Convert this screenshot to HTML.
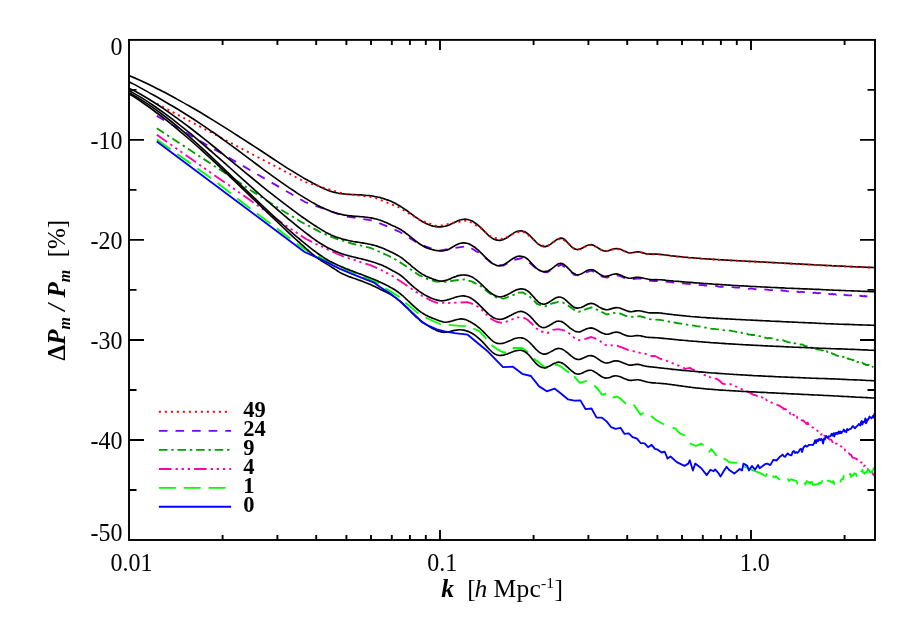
<!DOCTYPE html>
<html><head><meta charset="utf-8"><title>plot</title>
<style>
html,body{margin:0;padding:0;background:#fff;}
body{width:913px;height:622px;overflow:hidden;position:relative;font-family:"Liberation Serif",serif;}
</style></head><body>
<svg width="913" height="622" viewBox="0 0 913 622" style="position:absolute;left:0;top:0;will-change:transform">
<rect x="0" y="0" width="913" height="622" fill="#fff"/>
<defs><clipPath id="cp"><rect x="129.0" y="39.9" width="746.6" height="500.1"/></clipPath></defs>
<g fill="none" stroke-linejoin="round" clip-path="url(#cp)">
<path d="M129 75.5C131 76.3 137 78.9 141 80.8C145 82.6 149 84.5 153 86.5C157 88.5 161 90.5 165 92.6C169 94.7 173 96.9 177 99.1C181 101.3 185 103.5 189 105.8C193 108.1 197 110.5 201 112.8C205 115.2 209 117.7 213 120.1C217 122.6 221 125.1 225 127.6C229 130.1 233 132.6 237 135.2C241 137.8 245 140.4 249 143C253 145.6 257 148.2 261 150.8C265 153.5 269 156.1 273 158.8C277 161.4 281.2 164.1 285 166.6C288.8 169 293.8 172 296 173.4C298.2 174.8 297.7 174.4 298.5 174.9C299.3 175.4 300.2 175.9 301 176.4C301.8 176.9 302.7 177.4 303.5 177.9C304.3 178.3 305.2 178.8 306 179.3C306.8 179.7 307.7 180.2 308.5 180.7C309.3 181.1 310.2 181.6 311 182C311.8 182.5 312.7 182.9 313.5 183.4C314.3 183.8 315.2 184.2 316 184.7C316.8 185.1 317.7 185.5 318.5 185.9C319.3 186.4 320.2 186.8 321 187.2C321.8 187.6 322.7 188 323.5 188.4C324.3 188.7 325.2 189.1 326 189.5C326.8 189.8 327.7 190.1 328.5 190.5C329.3 190.8 330.2 191.1 331 191.4C331.8 191.6 332.7 191.9 333.5 192.1C334.3 192.3 335.2 192.5 336 192.7C336.8 192.9 337.7 193.1 338.5 193.2C339.3 193.4 340.2 193.5 341 193.6C341.8 193.7 342.7 193.8 343.5 193.9C344.3 194 345.2 194.1 346 194.2C346.8 194.2 347.7 194.3 348.5 194.3C349.3 194.4 350.2 194.4 351 194.5C351.8 194.5 352.7 194.6 353.5 194.6C354.3 194.6 355.2 194.7 356 194.7C356.8 194.7 357.7 194.8 358.5 194.8C359.3 194.8 360.2 194.9 361 194.9C361.8 195 362.7 195 363.5 195.1C364.3 195.1 365.2 195.2 366 195.3C366.8 195.3 367.7 195.4 368.5 195.5C369.3 195.6 370.2 195.7 371 195.8C371.8 196 372.7 196.1 373.5 196.2C374.3 196.4 375.2 196.5 376 196.7C376.8 196.9 377.7 197 378.5 197.2C379.3 197.4 380.2 197.6 381 197.9C381.8 198.1 382.7 198.3 383.5 198.6C384.3 198.8 385.2 199.1 386 199.4C386.8 199.7 387.7 200 388.5 200.3C389.3 200.6 390.2 201 391 201.3C391.8 201.7 392.7 202.1 393.5 202.5C394.3 202.9 395.2 203.3 396 203.8C396.8 204.2 397.7 204.7 398.5 205.1C399.3 205.6 400.2 206.1 401 206.7C401.8 207.2 402.7 207.7 403.5 208.3C404.3 208.9 405.2 209.5 406 210C406.8 210.6 407.7 211.2 408.5 211.9C409.3 212.5 410.2 213.1 411 213.7C411.8 214.3 412.7 214.9 413.5 215.5C414.3 216.1 415.2 216.8 416 217.3C416.8 217.9 417.7 218.5 418.5 219.1C419.3 219.6 420.2 220.2 421 220.7C421.8 221.2 422.7 221.7 423.5 222.2C424.3 222.6 425.2 223 426 223.5C426.8 223.9 427.7 224.2 428.5 224.6C429.3 224.9 430.2 225.2 431 225.5C431.8 225.7 432.7 226 433.5 226.2C434.3 226.3 435.2 226.5 436 226.6C436.8 226.7 437.7 226.8 438.5 226.8C439.3 226.9 440.2 226.9 441 226.8C441.8 226.8 442.7 226.7 443.5 226.5C444.3 226.4 445.2 226.2 446 226C446.8 225.7 447.7 225.5 448.5 225.2C449.3 224.8 450.2 224.5 451 224.1C451.8 223.7 452.7 223.3 453.5 222.9C454.3 222.5 455.2 222.1 456 221.7C456.8 221.3 457.7 220.9 458.5 220.6C459.3 220.3 460.2 220 461 219.8C461.8 219.5 462.7 219.3 463.5 219.3C464.3 219.2 465.2 219.1 466 219.2C466.8 219.3 467.7 219.4 468.5 219.7C469.3 219.9 470.2 220.2 471 220.6C471.8 220.9 472.7 221.4 473.5 221.9C474.3 222.4 475.2 222.9 476 223.6C476.8 224.2 477.7 224.8 478.5 225.6C479.3 226.3 480.2 227.1 481 227.9C481.8 228.7 482.7 229.5 483.5 230.4C484.3 231.2 485.2 232.1 486 233C486.8 233.8 487.7 234.6 488.5 235.4C489.3 236.1 490.2 236.8 491 237.4C491.8 238 492.7 238.6 493.5 239C494.3 239.4 495.2 239.7 496 239.9C496.8 240.1 497.7 240.2 498.5 240.3C499.3 240.3 500.2 240.3 501 240.1C501.8 240 502.7 239.7 503.5 239.4C504.3 239.1 505.2 238.7 506 238.3C506.8 237.8 507.7 237.2 508.5 236.7C509.3 236.1 510.2 235.4 511 234.8C511.8 234.2 512.7 233.6 513.5 233.1C514.3 232.5 515.2 232 516 231.7C516.8 231.3 517.7 231.1 518.5 231C519.3 230.8 520.2 230.8 521 230.8C521.8 230.9 522.7 231.1 523.5 231.4C524.3 231.6 525.2 232 526 232.5C526.8 233 527.7 233.6 528.5 234.4C529.3 235.1 530.2 235.9 531 236.8C531.8 237.6 532.7 238.6 533.5 239.4C534.3 240.3 535.2 241.2 536 242C536.8 242.8 537.7 243.6 538.5 244.2C539.3 244.9 540.2 245.4 541 245.8C541.8 246.2 542.7 246.5 543.5 246.6C544.3 246.7 545.2 246.6 546 246.4C546.8 246.3 547.7 245.9 548.5 245.5C549.3 245.1 550.2 244.5 551 243.9C551.8 243.3 552.7 242.6 553.5 242C554.3 241.4 555.2 240.7 556 240.1C556.8 239.6 557.7 239 558.5 238.7C559.3 238.4 560.2 238.1 561 238.1C561.8 238.2 562.7 238.4 563.5 238.8C564.3 239.2 565.2 240 566 240.8C566.8 241.6 567.7 242.7 568.5 243.6C569.3 244.5 570.2 245.4 571 246.2C571.8 246.9 572.7 247.7 573.5 248.2C574.3 248.7 575.2 249.1 576 249.3C576.8 249.6 577.7 249.6 578.5 249.5C579.3 249.4 580.2 249 581 248.7C581.8 248.3 582.7 247.8 583.5 247.4C584.3 247 585.2 246.4 586 246C586.8 245.6 587.7 245.2 588.5 245C589.3 244.7 590.2 244.6 591 244.6C591.8 244.6 592.7 244.9 593.5 245.2C594.3 245.6 595.2 246.1 596 246.6C596.8 247.1 597.7 247.7 598.5 248.2C599.3 248.7 600.2 249.3 601 249.7C601.8 250.1 602.7 250.5 603.5 250.7C604.3 251 605.2 251.1 606 251.1C606.8 251.1 607.7 250.9 608.5 250.7C609.3 250.4 610.2 250.1 611 249.8C611.8 249.5 612.7 249.2 613.5 249C614.3 248.8 615.2 248.6 616 248.5C616.8 248.5 617.7 248.6 618.5 248.8C619.3 249 620.2 249.3 621 249.6C621.8 249.9 622.7 250.3 623.5 250.7C624.3 251.1 625.2 251.5 626 251.8C626.8 252.1 627.7 252.5 628.5 252.7C629.3 252.8 630.2 252.9 631 252.9C631.8 252.9 632.7 252.7 633.5 252.5C634.3 252.4 635.2 252.1 636 251.9C636.8 251.8 637.7 251.7 638.5 251.7C639.3 251.8 640.2 252 641 252.2C641.8 252.4 642.7 252.8 643.5 253C644.3 253.3 645.2 253.5 646 253.7C646.8 253.8 647.7 253.9 648.5 254C649.3 254.1 650.2 254.1 651 254.1C651.8 254.1 652.7 254.1 653.5 254.1C654.3 254.1 655.2 254.1 656 254.1C656.8 254.1 657.7 254.2 658.5 254.2C659.3 254.3 660.2 254.4 661 254.5C661.8 254.6 662.7 254.7 663.5 254.8C664.3 254.9 665.2 255 666 255.1C666.8 255.2 667.7 255.3 668.5 255.4C669.3 255.5 670.2 255.6 671 255.7C671.8 255.8 672.7 255.9 673.5 256C674.3 256.1 675.2 256.2 676 256.3C676.8 256.3 677.7 256.4 678.5 256.5C679.3 256.6 680.2 256.7 681 256.8C681.8 256.9 682.7 256.9 683.5 257C684.3 257.1 685.2 257.2 686 257.2C686.8 257.3 687.7 257.4 688.5 257.5C689.3 257.5 690.2 257.6 691 257.7C691.8 257.8 692.7 257.8 693.5 257.9C694.3 258 695.2 258 696 258.1C696.8 258.2 697.7 258.2 698.5 258.3C699.3 258.4 700.2 258.4 701 258.5C701.8 258.5 702.7 258.6 703.5 258.7C704.3 258.7 705.2 258.8 706 258.8C706.8 258.9 707.7 258.9 708.5 259C709.3 259.1 710.2 259.1 711 259.2C711.8 259.2 712.7 259.3 713.5 259.3C714.3 259.4 715.2 259.4 716 259.5C716.8 259.5 717.7 259.6 718.5 259.6C719.3 259.7 720.2 259.7 721 259.8C721.8 259.8 722.7 259.9 723.5 259.9C724.3 260 725.2 260 726 260.1C726.8 260.1 727.7 260.2 728.5 260.2C729.3 260.2 730.2 260.3 731 260.3C731.8 260.4 732.7 260.4 733.5 260.5C734.3 260.5 735.2 260.6 736 260.6C736.8 260.6 737.7 260.7 738.5 260.7C739.3 260.8 740.2 260.8 741 260.9C741.8 260.9 742.7 260.9 743.5 261C744.3 261 745.2 261.1 746 261.1C746.8 261.2 747.7 261.2 748.5 261.3C749.3 261.3 750.2 261.3 751 261.4C751.8 261.4 752.7 261.5 753.5 261.5C754.3 261.6 755.2 261.6 756 261.6C756.8 261.7 757.7 261.7 758.5 261.8C759.3 261.8 760.2 261.9 761 261.9C761.8 262 762.7 262 763.5 262C764.3 262.1 765.2 262.1 766 262.2C766.8 262.2 767.7 262.3 768.5 262.3C769.3 262.4 770.2 262.4 771 262.5C771.8 262.5 772.7 262.5 773.5 262.6C774.3 262.6 775.2 262.7 776 262.7C776.8 262.8 777.7 262.8 778.5 262.9C779.3 262.9 780.2 263 781 263C781.8 263 782.7 263.1 783.5 263.1C784.3 263.2 785.2 263.2 786 263.3C786.8 263.3 787.7 263.4 788.5 263.4C789.3 263.5 790.2 263.5 791 263.5C791.8 263.6 792.7 263.6 793.5 263.7C794.3 263.7 795.2 263.8 796 263.8C796.8 263.9 797.7 263.9 798.5 263.9C799.3 264 800.2 264 801 264.1C801.8 264.1 802.7 264.2 803.5 264.2C804.3 264.3 805.2 264.3 806 264.3C806.8 264.4 807.7 264.4 808.5 264.5C809.3 264.5 810.2 264.6 811 264.6C811.8 264.7 812.7 264.7 813.5 264.7C814.3 264.8 815.2 264.8 816 264.9C816.8 264.9 817.7 265 818.5 265C819.3 265 820.2 265.1 821 265.1C821.8 265.2 822.7 265.2 823.5 265.3C824.3 265.3 825.2 265.3 826 265.4C826.8 265.4 827.7 265.5 828.5 265.5C829.3 265.6 830.2 265.6 831 265.6C831.8 265.7 832.7 265.7 833.5 265.8C834.3 265.8 835.2 265.8 836 265.9C836.8 265.9 837.7 266 838.5 266C839.3 266 840.2 266.1 841 266.1C841.8 266.2 842.7 266.2 843.5 266.2C844.3 266.3 845.2 266.3 846 266.4C846.8 266.4 847.7 266.4 848.5 266.5C849.3 266.5 850.2 266.6 851 266.6C851.8 266.6 852.7 266.7 853.5 266.7C854.3 266.7 855.2 266.8 856 266.8C856.8 266.9 857.7 266.9 858.5 266.9C859.3 267 860.2 267 861 267C861.8 267.1 862.7 267.1 863.5 267.1C864.3 267.2 865.2 267.2 866 267.2C866.8 267.3 867.7 267.3 868.5 267.3C869.3 267.4 870.2 267.4 871 267.4C871.8 267.5 872.8 267.5 873.5 267.5C874.2 267.6 874.8 267.6 875 267.6" stroke="#000" stroke-width="1.65"/>
<path d="M156.8 103.7L250.3 153.2L305 181.9L343.9 193.8L374 197.3L398.6 207.2L419.5 219.9L437.5 226.3L453.4 222.9L467.6 220.4L480.5 228L492.3 237.6L503.1 239L513.1 234L522.4 231.2L531.1 237.3L539.3 245L547 246.3L554.3 241.5L561.3 238.3L567.8 243L574.1 248.7L580.1 249.2L585.9 246.2L591.4 244.8L596.7 247.2L601.8 250.2L606.7 251.2L611.4 249.8L616 248.7L620.4 249.5L624.7 251.4L628.9 252.9L632.9 252.8L636.8 252L640.6 252.3L644.3 253.4L647.9 254.1L651.5 254.3L654.9 254.3L658.2 254.4L661.5 254.7L664.6 255.1L667.7 255.5L670.8 255.8L673.7 256.2L676.7 256.5L679.5 256.8L682.3 257L685 257.3L687.7 257.5L690.3 257.8L692.9 258L695.4 258.2L697.9 258.4L700.3 258.6L702.7 258.8L705.1 258.9L707.4 259.1L709.6 259.2L711.9 259.4L714.1 259.5L716.2 259.6L718.4 259.8L720.4 259.9L722.5 260L724.5 260.1L726.5 260.2L728.5 260.3L730.5 260.5L732.4 260.6L734.3 260.7L736.1 260.8L738 260.9L739.8 260.9L741.6 261L743.3 261.1L745.1 261.2L746.8 261.3L748.5 261.4L750.2 261.5L751.8 261.6L753.5 261.7L755.1 261.7L756.7 261.8L758.3 261.9L759.8 262L761.4 262.1L762.9 262.2L764.4 262.2L765.9 262.3L767.4 262.4L768.8 262.5L770.3 262.6L771.7 262.6L773.1 262.7L774.5 262.8L775.9 262.9L777.3 262.9L778.6 263L780 263.1L781.3 263.2L782.6 263.2L783.9 263.3L785.2 263.4L786.5 263.4L787.8 263.5L789 263.6L790.3 263.7L791.5 263.7L792.7 263.8L793.9 263.8L795.1 263.9L796.3 264L797.5 264L798.7 264.1L799.8 264.2L801 264.2L802.1 264.3L803.3 264.4L804.4 264.4L805.5 264.5L806.6 264.5L807.7 264.6L808.8 264.6L809.8 264.7L810.9 264.8L812 264.8L813 264.9L814.1 264.9L815.1 265L816.1 265L817.1 265.1L818.2 265.1L819.2 265.2L820.2 265.2L821.2 265.3L822.1 265.3L823.1 265.4L824.1 265.4L825 265.5L826 265.5L826.9 265.6L827.9 265.6L828.8 265.7L829.7 265.7L830.7 265.8L831.6 265.8L832.5 265.9L833.4 265.9L834.3 266L835.2 266L836.1 266L836.9 266.1L837.8 266.1L838.7 266.2L839.6 266.2L840.4 266.2L841.3 266.3L842.1 266.3L843 266.4L843.8 266.4L844.6 266.4L845.4 266.5L846.3 266.5L847.1 266.6L847.9 266.6L848.7 266.6L849.5 266.7L850.3 266.7L851.1 266.7L851.9 266.8L852.7 266.8L853.4 266.9L854.2 266.9L855 266.9L855.8 267L856.5 267L857.3 267L858 267.1L858.8 267.1L859.5 267.1L860.3 267.2L861 267.2L861.7 267.2L862.4 267.2L863.2 267.3L863.9 267.3L864.6 267.3L865.3 267.4L866 267.4L866.7 267.4L867.4 267.5L868.1 267.5L868.8 267.5L869.5 267.5L870.2 267.6L870.9 267.6L871.6 267.6L872.3 267.6L872.9 267.7L873.6 267.7L874.3 267.7L875 267.6" stroke="#ff0000" stroke-width="1.85" stroke-dasharray="2 4"/>
<path d="M156.8 115.9L250.3 170.2L305 202L343.9 216L374 220.8L398.6 231.3L419.5 244L437.5 251L453.4 248.2L467.6 246L480.5 253.9L492.3 263.6L503.1 265.7L513.1 260L522.4 258L531.1 264.1L539.3 271.4L547 272.4L554.3 267.9L561.3 264.6L567.8 269.2L574.1 274.8L580.1 275.5L585.9 272.4L591.4 270.7L596.7 273.3L601.8 276.5L606.7 277.5L611.4 276.1L616 275L620.4 276.2L624.7 278.2L628.9 279.3L632.9 279.1L636.8 278.5L640.6 278.7L644.3 279.6L647.9 280.5L651.5 280.9L654.9 281L658.2 281L661.5 281.3L664.6 281.6L667.7 281.9L670.8 282.2L673.7 282.5L676.7 282.8L679.5 283.1L682.3 283.3L685 283.6L687.7 283.8L690.3 284.1L692.9 284.3L695.4 284.5L697.9 284.7L700.3 285.1L702.7 284.8L705.1 285.5L707.4 285.7L709.6 285.7L711.9 285.8L714.1 285.8L716.2 285.9L718.4 286.6L720.4 286.8L722.5 286.7L724.5 287L726.5 287.2L728.5 287.3L730.5 287.3L732.4 287.1L734.3 287.3L736.1 287.6L738 287.6L739.8 287.6L741.6 288.1L743.3 288.1L745.1 288L746.8 288.6L748.5 288.8L750.2 288.5L751.8 288.6L753.5 288.8L755.1 289.2L756.7 289.2L758.3 289.1L759.8 289.4L761.4 289.5L762.9 289.2L764.4 289.3L765.9 289.6L767.4 289.6L768.8 289.9L770.3 290.2L771.7 290.1L773.1 289.8L774.5 290.2L775.9 290.6L777.3 290.1L778.6 290.5L780 290.8L781.3 290.3L782.6 290.5L783.9 290.8L785.2 290.6L786.5 291.1L787.8 291.4L789 291L790.3 291.1L791.5 291.6L792.7 291.4L793.9 291.3L795.1 291.6L796.3 292L797.5 291.6L798.7 292L799.8 292.2L801 291.8L802.1 291.9L803.3 292.2L804.4 292.1L805.5 292.4L806.6 292.2L807.7 292.6L808.8 292.5L809.8 292.7L810.9 292.5L812 293.1L813 293.1L814.1 292.6L815.1 292.7L816.1 293.2L817.1 293.1L818.2 293.4L819.2 292.9L820.2 293.2L821.2 293.7L822.1 293.6L823.1 293.8L824.1 293.8L825 293.6L826 293.6L826.9 293.6L827.9 294.2L828.8 293.9L829.7 294.2L830.7 294.3L831.6 293.9L832.5 293.9L833.4 294.5L834.3 294.1L835.2 294.2L836.1 294.7L836.9 294.1L837.8 294.2L838.7 294.7L839.6 294.9L840.4 294.6L841.3 295.1L842.1 294.6L843 295L843.8 295L844.6 294.7L845.4 295.1L846.3 295.3L847.1 295L847.9 295.4L848.7 295.4L849.5 295.4L850.3 295.3L851.1 295.3L851.9 295.1L852.7 295.2L853.4 295.7L854.2 295.9L855 295.4L855.8 295.6L856.5 295.9L857.3 296.1L858 295.8L858.8 295.7L859.5 295.7L860.3 295.7L861 296.1L861.7 295.9L862.4 296.2L863.2 296.3L863.9 296L864.6 296L865.3 296.6L866 296.2L866.7 296.4L867.4 296.4L868.1 296.6L868.8 296.4" stroke="#8000ff" stroke-width="1.85" stroke-dasharray="8.6 8"/>
<path d="M156.8 128.3L190 150.1L215 166.4L222.7 171.4L245.7 186.8L253.3 191.9L261.5 197.1L266.3 200.3L276.9 207L285.1 212.2L292.8 216.8L301.3 222L316.7 230.1L320 232L334.2 238L351.8 243.5L370.4 247.9L387.9 255.5L396 259.8L404.2 265L418.5 274.8L428 279.3L436 281.6L445.9 281.8L454.6 280.5L464.5 279.4L472.1 281.6L480.9 286.3L488.6 292.6L495.9 297.3L503.5 298.7L511 296L518.9 292.7L523 292.5L529.8 296.7L537.2 304L545.3 306.3L551.9 303.5L558.5 301.9L562.9 302.5L568.3 305.7L573.8 309.6L578.7 311.8L584.8 309.6L591.3 307.4L595.7 309L601.2 311.8L606.7 314.5L613.2 312.9L619.8 313.4L626.4 316.1L633 316.8L640 316.1L649.2 319.2L659.9 319.9L676.8 323L696.7 326.1L702.7 326.8L705.1 327.5L707.4 328.1L709.6 328.6L711.9 328.8L714.1 328.9L716.2 329.2L718.4 329.3L720.4 329.3L722.5 329.8L724.5 330.4L726.5 330.5L728.5 330.6L730.5 330.6L732.4 331.2L734.3 331.4L736.1 331.9L738 332.4L739.8 331.9L741.6 332.9L743.3 332.8L745.1 333.3L746.8 333.5L748.5 334.6L750.2 334.7L751.8 335L753.5 334.9L755.1 335L756.7 335.6L758.3 336L759.8 336.2L761.4 336.8L762.9 336.7L764.4 337.7L765.9 337.6L767.4 338.3L768.8 338L770.3 338.1L771.7 338.2L773.1 339L774.5 339.4L775.9 339.4L777.3 339.8L778.6 339.8L780 340L781.3 340.3L782.6 340.1L783.9 340.6L785.2 341.2L786.5 341.5L787.8 342.2L789 342.3L790.3 342.5L791.5 342.7L792.7 342.1L793.9 343.2L795.1 343.2L796.3 343.9L797.5 343.9L798.7 344.2L799.8 344.3L801 344.7L802.1 344.4L803.3 344.8L804.4 346.1L805.5 346.1L806.6 346.1L807.7 346.4L808.8 346.7L809.8 348.4L810.9 347.6L812 347.7L813 347.7L814.1 347.4L815.1 348.6L816.1 349.3L817.1 349.4L818.2 349.5L819.2 349.4L820.2 349.5L821.2 350.3L822.1 350.4L823.1 350.5L824.1 351.9L825 351.1L826 351.6L826.9 351.2L827.9 353.1L828.8 352.6L829.7 353L830.7 353.4L831.6 353.2L832.5 353.6L833.4 354.2L834.3 354.1L835.2 354.8L836.1 355.4L836.9 355.5L837.8 356L838.7 356.2L839.6 356.7L840.4 356.4L841.3 356.7L842.1 356.3L843 356.9L843.8 357L844.6 357.5L845.4 357.3L846.3 358.1L847.1 359.3L847.9 358.2L848.7 359L849.5 359.3L850.3 359L851.1 359.4L851.9 359.6L852.7 360.2L853.4 360L854.2 361.7L855 361.2L855.8 361.6L856.5 362.2L857.3 362.2L858 361.8L858.8 362.2L859.5 362.3L860.3 362.7L861 363.2L861.7 362.2L862.4 362.6L863.2 363.4L863.9 364L864.6 363.8L865.3 364.2L866 365L866.7 365L867.4 364.9L868.1 365.1L868.8 364.8L869.5 366L870.2 366L870.9 365.8L871.6 366.7L872.3 366.6L872.9 366.8L873.5 367.2" stroke="#00a000" stroke-width="1.85" stroke-dasharray="8.6 3.8 2.4 3.8"/>
<path d="M156.8 134.8L190 158.1L215 175.7L221.6 180.3L228.7 185L247.9 198.6L257.7 205.6L262.6 209.1L272.9 216.4L286.5 225.9L296.4 232.6L305.7 238.7L315.6 243.8L322.1 246.7L337.5 254L343.8 256.6L355 260.1L370.4 265.2L381.3 270L392.5 276L402 282.2L411.4 288.7L421.8 295.7L431.6 300.8L437.1 302.8L449.1 303L458 302.6L467.4 302.2L471.8 303.6L477.6 306.5L482.2 310.2L490.9 318.8L496 321.5L501.3 322.8L506.3 321.7L512 319.4L517.8 317.3L523.2 317.3L527.5 319.8L532 323.9L536.2 328.3L541.5 331.5L547.5 333.1L553 329.8L558.5 329.1L564 330.4L568.9 333.1L573.8 337.5L578.7 340.2L584.8 339.1L591.3 337L595.7 338.6L600.4 341.3L605.8 345.2L612.1 345.3L617.6 345.8L623.1 347.9L627.9 349.9L634 351.3L640 352.9L645.7 353.9L650 356.2L654.5 355.8L660.7 359L666.1 360.6L682 366.9L685 368.8L689.9 367.9L692.3 369.4L697.3 370.8L702.7 374.3L705.1 375.3L707.4 375L709.6 376.9L711.9 378.5L714.1 378.5L716.2 378.7L718.4 379.8L720.4 381.5L722.5 383.5L724.5 384.1L726.5 384L728.5 384.5L730.5 384.1L732.4 384.9L734.3 385.8L736.1 386.5L738 387.2L739.8 387.9L741.6 389.1L743.3 389.8L745.1 390.6L746.8 391.5L748.5 391.6L750.2 393L751.8 393.9L753.5 394.9L755.1 395L756.7 395.9L758.3 395.8L759.8 397.1L761.4 396.9L762.9 398L764.4 400.1L765.9 399.3L767.4 401.5L768.8 401.7L770.3 401.9L771.7 402.7L773.1 403.4L774.5 404.3L775.9 404.4L777.3 404.8L778.6 405.5L780 405.9L781.3 407.2L782.6 407.6L783.9 409.4L785.2 408.7L786.5 409.9L787.8 410.8L789 411L790.3 413.9L791.5 412.3L792.7 414.2L793.9 414.9L795.1 416.8L796.3 415.6L797.5 418L798.7 417.7L799.8 418.8L801 419.2L802.1 420.7L803.3 420.4L804.4 421.7L805.5 422.6L806.6 424.2L807.7 422.5L808.8 425.5L809.8 425.9L810.9 425.9L812 427.1L813 427.4L814.1 429.3L815.1 429.3L816.1 429.7L817.1 430.5L818.2 431.2L819.2 431.9L820.2 432.2L821.2 434.7L822.1 433L823.1 432.7L824.1 435.4L825 436L826 437L826.9 437.2L827.9 437.9L828.8 438.8L829.7 439.7L830.7 439.5L831.6 440.1L832.5 442.1L833.4 441.8L834.3 441.5L835.2 444.1L836.1 443.7L836.9 443.4L837.8 443.6L838.7 445.2L839.6 445.2L840.4 445.8L841.3 446.4L842.1 447.6L843 449.3L843.8 449L844.6 449.1L845.4 451.1L846.3 451.4L847.1 452.6L847.9 453.6L848.7 453.3L849.5 454L850.3 454.8L851.1 454.7L851.9 456.6L852.7 457.7L853.4 457.6L854.2 457.8L855 458.3L855.8 458.5L856.5 459L857.3 459.7L858 459.9L858.8 460.7L859.5 460.4L860.3 462.2L861 462.5L861.7 462.3L862.4 462.3L863.2 464.5L863.9 466L864.6 465.4L865.3 466.3L866 466.9L866.7 468.4L867.4 468L868.1 470L868.8 469.8L869.5 471.3L870.2 471.4L870.9 471.8L871.6 471.6L872.3 472.8L872.9 473.8L873.6 475.1L874.3 475.4L875 475.2" stroke="#ff00aa" stroke-width="1.85" stroke-dasharray="12.6 4.0 2.3 3.8 2.3 3.8 2.3 4.1"/>
<g stroke="#00ff00" stroke-width="1.85"><path d="M156.8 139.6L190.7 163.6L217.2 182.7L236.9 198.2L249.9 208.2L269.6 223L289.8 238.3L300 246L309 252L320 257.4L333.1 263.5L345 268.8L355 273.2L363.3 276.6L377.5 282.8L385.2 288.1L398.9 296.6L405.5 302.7L418 313.1L425.2 317.4L432 320.5L440 324L448.7 324.9L460 325.8L465.2 326.2L472.9 328.3L479.4 331.2L484.9 337L490.9 344.5L497 349.1L504.3 352.8L512.3 348L522.4 348L527 351.4L533.7 358.5L545.7 367.8L555.6 364.5L560 365.9L566.8 371L571 373.9" stroke-dasharray="16.9 8"/><path d="M574.2 376.3L579.8 382.9L587 380.9M594.3 385.5L598.6 390L602 394.8L606.2 393.6M612.8 397.6L616.8 396.5L620.4 398.5L626 403.8M633.7 404.4L640.6 414.8L643.6 412.8M651.2 416L655.6 419.8L664 424.5M672.5 427.9L675.3 428.3L680 433.7L685.2 435.5M689.8 443.4L696 446L701.3 443.7L703.6 445.2M709 452.6L711.3 449L716.7 455.9M723.6 458.7L726.6 459.8L728.9 462.1L737.4 462.8M744.3 466.7L753.5 470.5L759.6 472.8L762.9 474.4L764.4 475.6L765.9 475.8L767.1 473.3M772.4 476.4L773.1 476.3L774.5 477.4L775.9 476.3L777.3 477.6L778.6 478.7L779.9 479.8M787.6 479.2L787.8 479.1L789 481.1L790.3 479.7L791.5 479.3L792.7 480L793.9 480L795.1 480.6L796.3 481.2L797.5 483.6L797.6 483.5M804.5 482.6L805.5 484.5L806.6 481.1L807.7 481.6L808.8 482L809.8 483.8L810.9 482.2L812 481.9L813 485.1L814.1 484.7L815.1 484.4L816.1 484.8L817.1 484.2L818.2 484L819.2 482.8L820.2 483.4L821.2 483L822.1 481.1L822.9 480.4M827.5 480.3L827.9 480.9L828.8 480.5L829.7 480.9L830.7 481.9L831.6 482.1L832.5 482.4L833.4 481.1L834.3 484.3L834.4 484.1M839.7 481.5L840.4 481.7L841.3 479.5L842.1 479.5L843 479.1L843.8 475.7L844.3 475.6M849.7 475.2L850.3 473.6L851.1 477L851.9 475.4L852.7 475.5L853.4 475.2L854.2 473.3L855 473.5L855.8 473.6L856.5 476.1L856.6 475.8M861.2 472.2L861.7 471.2L862.4 469.8L863.2 472.6L863.9 472.8L864.6 473.7L865.3 472.7L866 472.2L866.7 472.5L867.4 470.4L868.1 470.3L868.8 469.8L869.5 471L870.2 472.7L870.9 471.8L871.6 472.3L872.3 471.1L872.9 470.2L873.6 468.7L874.3 468L874.7 467.7"/></g>
<path d="M129 81.7C131 82.8 137 85.9 141 88.1C145 90.3 149 92.5 153 94.8C157 97 161 99.3 165 101.7C169 104 173 106.4 177 108.8C181 111.3 185 113.7 189 116.3C193 118.8 197 121.4 201 124.1C205 126.8 209 129.5 213 132.3C217 135.1 221 138 225 140.9C229 143.8 233 146.7 237 149.7C241 152.7 245 155.7 249 158.7C253 161.6 257 164.6 261 167.6C265 170.6 269 173.5 273 176.4C277 179.3 281.2 182.3 285 184.9C288.8 187.6 293.8 190.8 296 192.3C298.2 193.9 297.7 193.4 298.5 194C299.3 194.5 300.2 195 301 195.6C301.8 196.1 302.7 196.6 303.5 197.1C304.3 197.6 305.2 198.1 306 198.6C306.8 199.1 307.7 199.6 308.5 200.1C309.3 200.6 310.2 201.1 311 201.6C311.8 202.1 312.7 202.6 313.5 203C314.3 203.5 315.2 204 316 204.4C316.8 204.9 317.7 205.3 318.5 205.7C319.3 206.2 320.2 206.6 321 207C321.8 207.4 322.7 207.8 323.5 208.2C324.3 208.6 325.2 209 326 209.3C326.8 209.7 327.7 210 328.5 210.4C329.3 210.7 330.2 211 331 211.4C331.8 211.7 332.7 212 333.5 212.2C334.3 212.5 335.2 212.8 336 213C336.8 213.3 337.7 213.5 338.5 213.7C339.3 213.9 340.2 214.2 341 214.3C341.8 214.5 342.7 214.7 343.5 214.9C344.3 215 345.2 215.2 346 215.3C346.8 215.4 347.7 215.5 348.5 215.6C349.3 215.7 350.2 215.8 351 215.9C351.8 216 352.7 216.1 353.5 216.1C354.3 216.2 355.2 216.3 356 216.3C356.8 216.4 357.7 216.4 358.5 216.5C359.3 216.6 360.2 216.6 361 216.7C361.8 216.8 362.7 216.8 363.5 216.9C364.3 217 365.2 217.1 366 217.2C366.8 217.3 367.7 217.4 368.5 217.5C369.3 217.6 370.2 217.8 371 217.9C371.8 218.1 372.7 218.2 373.5 218.4C374.3 218.6 375.2 218.8 376 219C376.8 219.2 377.7 219.5 378.5 219.8C379.3 220 380.2 220.3 381 220.6C381.8 220.9 382.7 221.3 383.5 221.6C384.3 221.9 385.2 222.3 386 222.6C386.8 223 387.7 223.4 388.5 223.7C389.3 224.1 390.2 224.5 391 224.9C391.8 225.2 392.7 225.6 393.5 226C394.3 226.4 395.2 226.8 396 227.2C396.8 227.6 397.7 228 398.5 228.4C399.3 228.9 400.2 229.3 401 229.8C401.8 230.3 402.7 230.9 403.5 231.5C404.3 232 405.2 232.7 406 233.3C406.8 233.9 407.7 234.6 408.5 235.2C409.3 235.9 410.2 236.6 411 237.2C411.8 237.9 412.7 238.6 413.5 239.2C414.3 239.9 415.2 240.6 416 241.2C416.8 241.8 417.7 242.5 418.5 243.1C419.3 243.7 420.2 244.2 421 244.8C421.8 245.3 422.7 245.8 423.5 246.2C424.3 246.7 425.2 247.1 426 247.4C426.8 247.8 427.7 248.1 428.5 248.4C429.3 248.7 430.2 249 431 249.2C431.8 249.5 432.7 249.7 433.5 249.9C434.3 250.1 435.2 250.3 436 250.5C436.8 250.6 437.7 250.7 438.5 250.8C439.3 250.9 440.2 251 441 251C441.8 251 442.7 251 443.5 250.8C444.3 250.7 445.2 250.6 446 250.3C446.8 250.1 447.7 249.8 448.5 249.4C449.3 249 450.2 248.5 451 248C451.8 247.5 452.7 247 453.5 246.5C454.3 246 455.2 245.5 456 245.1C456.8 244.6 457.7 244.2 458.5 243.9C459.3 243.6 460.2 243.4 461 243.2C461.8 243.1 462.7 242.9 463.5 242.9C464.3 242.9 465.2 243 466 243.1C466.8 243.3 467.7 243.5 468.5 243.8C469.3 244.1 470.2 244.5 471 245C471.8 245.4 472.7 245.9 473.5 246.5C474.3 247 475.2 247.7 476 248.3C476.8 249 477.7 249.7 478.5 250.4C479.3 251.2 480.2 252 481 252.8C481.8 253.6 482.7 254.4 483.5 255.3C484.3 256.1 485.2 257 486 257.8C486.8 258.6 487.7 259.5 488.5 260.2C489.3 261 490.2 261.7 491 262.3C491.8 263 492.7 263.6 493.5 264.1C494.3 264.5 495.2 264.9 496 265.2C496.8 265.5 497.7 265.7 498.5 265.8C499.3 265.8 500.2 265.7 501 265.6C501.8 265.4 502.7 265.1 503.5 264.7C504.3 264.3 505.2 263.9 506 263.3C506.8 262.8 507.7 262.2 508.5 261.7C509.3 261.1 510.2 260.4 511 259.8C511.8 259.3 512.7 258.7 513.5 258.2C514.3 257.7 515.2 257.2 516 256.9C516.8 256.6 517.7 256.4 518.5 256.2C519.3 256.1 520.2 256.1 521 256.2C521.8 256.3 522.7 256.5 523.5 256.8C524.3 257.1 525.2 257.5 526 258C526.8 258.6 527.7 259.3 528.5 260C529.3 260.8 530.2 261.7 531 262.6C531.8 263.5 532.7 264.5 533.5 265.4C534.3 266.3 535.2 267.2 536 267.9C536.8 268.6 537.7 269.3 538.5 269.8C539.3 270.3 540.2 270.7 541 271C541.8 271.3 542.7 271.5 543.5 271.5C544.3 271.6 545.2 271.6 546 271.4C546.8 271.3 547.7 271 548.5 270.7C549.3 270.3 550.2 269.8 551 269.3C551.8 268.7 552.7 268 553.5 267.4C554.3 266.7 555.2 265.9 556 265.4C556.8 264.8 557.7 264.2 558.5 263.8C559.3 263.5 560.2 263.3 561 263.4C561.8 263.4 562.7 263.7 563.5 264.2C564.3 264.6 565.2 265.4 566 266.1C566.8 266.9 567.7 267.9 568.5 268.7C569.3 269.5 570.2 270.4 571 271.2C571.8 271.9 572.7 272.7 573.5 273.2C574.3 273.8 575.2 274.2 576 274.5C576.8 274.7 577.7 274.8 578.5 274.7C579.3 274.6 580.2 274.3 581 274C581.8 273.6 582.7 273.1 583.5 272.6C584.3 272.1 585.2 271.6 586 271.1C586.8 270.7 587.7 270.2 588.5 269.9C589.3 269.6 590.2 269.4 591 269.5C591.8 269.5 592.7 269.8 593.5 270.1C594.3 270.5 595.2 271.1 596 271.6C596.8 272.2 597.7 272.8 598.5 273.4C599.3 273.9 600.2 274.5 601 274.9C601.8 275.3 602.7 275.7 603.5 276C604.3 276.2 605.2 276.3 606 276.3C606.8 276.3 607.7 276.1 608.5 275.9C609.3 275.7 610.2 275.3 611 275C611.8 274.7 612.7 274.4 613.5 274.2C614.3 274 615.2 273.8 616 273.8C616.8 273.9 617.7 274 618.5 274.3C619.3 274.5 620.2 274.9 621 275.3C621.8 275.6 622.7 276.1 623.5 276.5C624.3 276.8 625.2 277.2 626 277.4C626.8 277.7 627.7 277.9 628.5 278.1C629.3 278.2 630.2 278.2 631 278.2C631.8 278.1 632.7 277.9 633.5 277.8C634.3 277.7 635.2 277.5 636 277.4C636.8 277.3 637.7 277.2 638.5 277.2C639.3 277.3 640.2 277.4 641 277.6C641.8 277.7 642.7 278 643.5 278.2C644.3 278.4 645.2 278.6 646 278.8C646.8 279 647.7 279.2 648.5 279.3C649.3 279.5 650.2 279.6 651 279.6C651.8 279.7 652.7 279.7 653.5 279.7C654.3 279.7 655.2 279.6 656 279.6C656.8 279.6 657.7 279.6 658.5 279.7C659.3 279.7 660.2 279.7 661 279.8C661.8 279.9 662.7 279.9 663.5 280C664.3 280.1 665.2 280.2 666 280.3C666.8 280.3 667.7 280.4 668.5 280.5C669.3 280.6 670.2 280.7 671 280.7C671.8 280.8 672.7 280.9 673.5 281C674.3 281 675.2 281.1 676 281.2C676.8 281.2 677.7 281.3 678.5 281.4C679.3 281.5 680.2 281.5 681 281.6C681.8 281.7 682.7 281.8 683.5 281.8C684.3 281.9 685.2 282 686 282C686.8 282.1 687.7 282.2 688.5 282.2C689.3 282.3 690.2 282.4 691 282.4C691.8 282.5 692.7 282.6 693.5 282.6C694.3 282.7 695.2 282.8 696 282.8C696.8 282.9 697.7 283 698.5 283C699.3 283.1 700.2 283.1 701 283.2C701.8 283.3 702.7 283.3 703.5 283.4C704.3 283.4 705.2 283.5 706 283.6C706.8 283.6 707.7 283.7 708.5 283.7C709.3 283.8 710.2 283.9 711 283.9C711.8 284 712.7 284 713.5 284.1C714.3 284.1 715.2 284.2 716 284.3C716.8 284.3 717.7 284.4 718.5 284.4C719.3 284.5 720.2 284.5 721 284.6C721.8 284.6 722.7 284.7 723.5 284.7C724.3 284.8 725.2 284.9 726 284.9C726.8 285 727.7 285 728.5 285.1C729.3 285.1 730.2 285.2 731 285.2C731.8 285.3 732.7 285.3 733.5 285.4C734.3 285.4 735.2 285.5 736 285.5C736.8 285.6 737.7 285.6 738.5 285.7C739.3 285.7 740.2 285.8 741 285.8C741.8 285.8 742.7 285.9 743.5 285.9C744.3 286 745.2 286 746 286.1C746.8 286.1 747.7 286.2 748.5 286.2C749.3 286.3 750.2 286.3 751 286.4C751.8 286.4 752.7 286.4 753.5 286.5C754.3 286.5 755.2 286.6 756 286.6C756.8 286.7 757.7 286.7 758.5 286.7C759.3 286.8 760.2 286.8 761 286.9C761.8 286.9 762.7 287 763.5 287C764.3 287 765.2 287.1 766 287.1C766.8 287.2 767.7 287.2 768.5 287.2C769.3 287.3 770.2 287.3 771 287.4C771.8 287.4 772.7 287.4 773.5 287.5C774.3 287.5 775.2 287.6 776 287.6C776.8 287.6 777.7 287.7 778.5 287.7C779.3 287.8 780.2 287.8 781 287.8C781.8 287.9 782.7 287.9 783.5 287.9C784.3 288 785.2 288 786 288.1C786.8 288.1 787.7 288.1 788.5 288.2C789.3 288.2 790.2 288.2 791 288.3C791.8 288.3 792.7 288.4 793.5 288.4C794.3 288.4 795.2 288.5 796 288.5C796.8 288.5 797.7 288.6 798.5 288.6C799.3 288.6 800.2 288.7 801 288.7C801.8 288.8 802.7 288.8 803.5 288.8C804.3 288.9 805.2 288.9 806 288.9C806.8 289 807.7 289 808.5 289C809.3 289.1 810.2 289.1 811 289.1C811.8 289.2 812.7 289.2 813.5 289.2C814.3 289.3 815.2 289.3 816 289.3C816.8 289.4 817.7 289.4 818.5 289.4C819.3 289.5 820.2 289.5 821 289.5C821.8 289.6 822.7 289.6 823.5 289.7C824.3 289.7 825.2 289.7 826 289.8C826.8 289.8 827.7 289.8 828.5 289.9C829.3 289.9 830.2 289.9 831 290C831.8 290 832.7 290 833.5 290.1C834.3 290.1 835.2 290.1 836 290.2C836.8 290.2 837.7 290.2 838.5 290.3C839.3 290.3 840.2 290.3 841 290.4C841.8 290.4 842.7 290.4 843.5 290.5C844.3 290.5 845.2 290.5 846 290.6C846.8 290.6 847.7 290.6 848.5 290.7C849.3 290.7 850.2 290.7 851 290.8C851.8 290.8 852.7 290.9 853.5 290.9C854.3 290.9 855.2 291 856 291C856.8 291 857.7 291.1 858.5 291.1C859.3 291.1 860.2 291.2 861 291.2C861.8 291.2 862.7 291.3 863.5 291.3C864.3 291.3 865.2 291.4 866 291.4C866.8 291.5 867.7 291.5 868.5 291.5C869.3 291.6 870.2 291.6 871 291.6C871.8 291.7 872.8 291.7 873.5 291.7C874.2 291.8 874.8 291.8 875 291.8" stroke="#000" stroke-width="1.65"/>
<path d="M129 88.1C131 89.2 137 92.3 141 94.5C145 96.8 149 99.2 153 101.8C157 104.3 161 106.9 165 109.6C169 112.4 173 115.2 177 118.1C181 121 185 124 189 127C193 130.1 197 133.2 201 136.4C205 139.5 209 142.7 213 146C217 149.2 221 152.5 225 155.8C229 159 233 162.4 237 165.7C241 168.9 245 172.3 249 175.5C253 178.8 257 182.1 261 185.3C265 188.6 269 191.8 273 194.9C277 198.1 281.2 201.3 285 204.2C288.8 207.2 293.8 210.8 296 212.4C298.2 214.1 297.7 213.7 298.5 214.3C299.3 214.9 300.2 215.5 301 216.1C301.8 216.7 302.7 217.2 303.5 217.8C304.3 218.4 305.2 219 306 219.6C306.8 220.2 307.7 220.7 308.5 221.3C309.3 221.9 310.2 222.4 311 223C311.8 223.5 312.7 224.1 313.5 224.7C314.3 225.2 315.2 225.8 316 226.3C316.8 226.8 317.7 227.4 318.5 227.9C319.3 228.4 320.2 228.9 321 229.4C321.8 230 322.7 230.5 323.5 230.9C324.3 231.4 325.2 231.9 326 232.4C326.8 232.8 327.7 233.2 328.5 233.7C329.3 234.1 330.2 234.5 331 234.9C331.8 235.2 332.7 235.6 333.5 235.9C334.3 236.3 335.2 236.6 336 236.9C336.8 237.2 337.7 237.5 338.5 237.8C339.3 238 340.2 238.3 341 238.6C341.8 238.8 342.7 239.1 343.5 239.3C344.3 239.5 345.2 239.7 346 239.9C346.8 240.1 347.7 240.3 348.5 240.5C349.3 240.7 350.2 240.8 351 241C351.8 241.2 352.7 241.3 353.5 241.5C354.3 241.6 355.2 241.8 356 241.9C356.8 242 357.7 242.2 358.5 242.3C359.3 242.4 360.2 242.6 361 242.7C361.8 242.8 362.7 243 363.5 243.1C364.3 243.2 365.2 243.4 366 243.5C366.8 243.7 367.7 243.8 368.5 244C369.3 244.2 370.2 244.3 371 244.5C371.8 244.7 372.7 244.9 373.5 245.2C374.3 245.4 375.2 245.6 376 245.9C376.8 246.1 377.7 246.4 378.5 246.7C379.3 247 380.2 247.3 381 247.6C381.8 247.9 382.7 248.3 383.5 248.6C384.3 248.9 385.2 249.3 386 249.7C386.8 250 387.7 250.4 388.5 250.8C389.3 251.2 390.2 251.6 391 252C391.8 252.4 392.7 252.8 393.5 253.2C394.3 253.6 395.2 254 396 254.5C396.8 254.9 397.7 255.4 398.5 255.9C399.3 256.4 400.2 256.9 401 257.4C401.8 258 402.7 258.6 403.5 259.3C404.3 259.9 405.2 260.6 406 261.3C406.8 262 407.7 262.7 408.5 263.4C409.3 264.1 410.2 264.8 411 265.5C411.8 266.3 412.7 267 413.5 267.7C414.3 268.3 415.2 269 416 269.7C416.8 270.3 417.7 271 418.5 271.6C419.3 272.2 420.2 272.8 421 273.3C421.8 273.9 422.7 274.4 423.5 274.8C424.3 275.3 425.2 275.8 426 276.2C426.8 276.6 427.7 277 428.5 277.3C429.3 277.7 430.2 278 431 278.3C431.8 278.7 432.7 279 433.5 279.2C434.3 279.5 435.2 279.8 436 280.1C436.8 280.3 437.7 280.6 438.5 280.7C439.3 280.9 440.2 281 441 281.1C441.8 281.1 442.7 281 443.5 280.9C444.3 280.8 445.2 280.6 446 280.3C446.8 280.1 447.7 279.8 448.5 279.4C449.3 279.1 450.2 278.8 451 278.4C451.8 278.1 452.7 277.7 453.5 277.3C454.3 277 455.2 276.7 456 276.4C456.8 276.1 457.7 275.8 458.5 275.6C459.3 275.4 460.2 275.2 461 275.1C461.8 275 462.7 275 463.5 275C464.3 275 465.2 275 466 275.1C466.8 275.2 467.7 275.4 468.5 275.6C469.3 275.9 470.2 276.2 471 276.6C471.8 276.9 472.7 277.4 473.5 277.9C474.3 278.4 475.2 279 476 279.6C476.8 280.2 477.7 280.9 478.5 281.7C479.3 282.4 480.2 283.1 481 283.9C481.8 284.7 482.7 285.5 483.5 286.3C484.3 287.1 485.2 287.9 486 288.7C486.8 289.5 487.7 290.2 488.5 291C489.3 291.7 490.2 292.4 491 293C491.8 293.7 492.7 294.3 493.5 294.8C494.3 295.3 495.2 295.7 496 296C496.8 296.4 497.7 296.6 498.5 296.8C499.3 296.9 500.2 296.9 501 296.8C501.8 296.7 502.7 296.5 503.5 296.3C504.3 296 505.2 295.7 506 295.3C506.8 295 507.7 294.5 508.5 294.1C509.3 293.6 510.2 293.1 511 292.7C511.8 292.2 512.7 291.7 513.5 291.3C514.3 290.9 515.2 290.5 516 290.1C516.8 289.8 517.7 289.5 518.5 289.2C519.3 289 520.2 288.9 521 288.8C521.8 288.8 522.7 288.9 523.5 289.1C524.3 289.2 525.2 289.5 526 290C526.8 290.4 527.7 291 528.5 291.7C529.3 292.4 530.2 293.2 531 294.1C531.8 294.9 532.7 295.9 533.5 296.8C534.3 297.8 535.2 298.8 536 299.7C536.8 300.5 537.7 301.4 538.5 302.1C539.3 302.7 540.2 303.2 541 303.6C541.8 303.9 542.7 304.1 543.5 304.2C544.3 304.2 545.2 304 546 303.7C546.8 303.4 547.7 303 548.5 302.5C549.3 302 550.2 301.4 551 300.9C551.8 300.3 552.7 299.7 553.5 299.2C554.3 298.7 555.2 298.2 556 297.8C556.8 297.5 557.7 297.2 558.5 297.1C559.3 297 560.2 297 561 297.3C561.8 297.5 562.7 297.9 563.5 298.4C564.3 298.9 565.2 299.6 566 300.3C566.8 301 567.7 301.8 568.5 302.6C569.3 303.4 570.2 304.2 571 304.9C571.8 305.7 572.7 306.4 573.5 306.9C574.3 307.3 575.2 307.7 576 307.9C576.8 308.1 577.7 308.1 578.5 308C579.3 307.9 580.2 307.7 581 307.5C581.8 307.2 582.7 306.8 583.5 306.4C584.3 306 585.2 305.5 586 305.1C586.8 304.7 587.7 304.1 588.5 303.9C589.3 303.6 590.2 303.3 591 303.3C591.8 303.3 592.7 303.5 593.5 303.8C594.3 304.1 595.2 304.6 596 305.1C596.8 305.5 597.7 306.1 598.5 306.6C599.3 307.1 600.2 307.6 601 308C601.8 308.5 602.7 308.9 603.5 309.1C604.3 309.4 605.2 309.6 606 309.7C606.8 309.8 607.7 309.7 608.5 309.5C609.3 309.4 610.2 309.1 611 308.9C611.8 308.6 612.7 308.3 613.5 308.1C614.3 307.9 615.2 307.7 616 307.6C616.8 307.6 617.7 307.6 618.5 307.8C619.3 307.9 620.2 308.2 621 308.5C621.8 308.8 622.7 309.2 623.5 309.5C624.3 309.9 625.2 310.3 626 310.6C626.8 310.9 627.7 311.2 628.5 311.4C629.3 311.6 630.2 311.7 631 311.7C631.8 311.7 632.7 311.5 633.5 311.4C634.3 311.3 635.2 311 636 310.9C636.8 310.8 637.7 310.7 638.5 310.7C639.3 310.7 640.2 310.8 641 311C641.8 311.1 642.7 311.4 643.5 311.6C644.3 311.8 645.2 312.1 646 312.2C646.8 312.4 647.7 312.6 648.5 312.7C649.3 312.8 650.2 312.9 651 312.9C651.8 313 652.7 312.9 653.5 312.9C654.3 312.9 655.2 312.9 656 312.8C656.8 312.8 657.7 312.9 658.5 312.9C659.3 313 660.2 313 661 313.1C661.8 313.2 662.7 313.3 663.5 313.5C664.3 313.6 665.2 313.7 666 313.8C666.8 313.9 667.7 314 668.5 314.1C669.3 314.2 670.2 314.3 671 314.4C671.8 314.5 672.7 314.6 673.5 314.7C674.3 314.8 675.2 314.9 676 315C676.8 315.1 677.7 315.2 678.5 315.3C679.3 315.4 680.2 315.4 681 315.5C681.8 315.6 682.7 315.7 683.5 315.8C684.3 315.9 685.2 315.9 686 316C686.8 316.1 687.7 316.2 688.5 316.2C689.3 316.3 690.2 316.4 691 316.5C691.8 316.5 692.7 316.6 693.5 316.7C694.3 316.8 695.2 316.8 696 316.9C696.8 317 697.7 317 698.5 317.1C699.3 317.2 700.2 317.2 701 317.3C701.8 317.3 702.7 317.4 703.5 317.5C704.3 317.5 705.2 317.6 706 317.6C706.8 317.7 707.7 317.8 708.5 317.8C709.3 317.9 710.2 317.9 711 318C711.8 318 712.7 318.1 713.5 318.1C714.3 318.2 715.2 318.2 716 318.3C716.8 318.3 717.7 318.4 718.5 318.4C719.3 318.5 720.2 318.5 721 318.6C721.8 318.6 722.7 318.7 723.5 318.7C724.3 318.8 725.2 318.8 726 318.8C726.8 318.9 727.7 318.9 728.5 319C729.3 319 730.2 319.1 731 319.1C731.8 319.2 732.7 319.2 733.5 319.2C734.3 319.3 735.2 319.3 736 319.4C736.8 319.4 737.7 319.4 738.5 319.5C739.3 319.5 740.2 319.6 741 319.6C741.8 319.7 742.7 319.7 743.5 319.7C744.3 319.8 745.2 319.8 746 319.9C746.8 319.9 747.7 319.9 748.5 320C749.3 320 750.2 320.1 751 320.1C751.8 320.1 752.7 320.2 753.5 320.2C754.3 320.3 755.2 320.3 756 320.3C756.8 320.4 757.7 320.4 758.5 320.5C759.3 320.5 760.2 320.5 761 320.6C761.8 320.6 762.7 320.7 763.5 320.7C764.3 320.7 765.2 320.8 766 320.8C766.8 320.9 767.7 320.9 768.5 320.9C769.3 321 770.2 321 771 321.1C771.8 321.1 772.7 321.1 773.5 321.2C774.3 321.2 775.2 321.3 776 321.3C776.8 321.3 777.7 321.4 778.5 321.4C779.3 321.5 780.2 321.5 781 321.5C781.8 321.6 782.7 321.6 783.5 321.7C784.3 321.7 785.2 321.7 786 321.8C786.8 321.8 787.7 321.9 788.5 321.9C789.3 321.9 790.2 322 791 322C791.8 322.1 792.7 322.1 793.5 322.1C794.3 322.2 795.2 322.2 796 322.2C796.8 322.3 797.7 322.3 798.5 322.4C799.3 322.4 800.2 322.4 801 322.5C801.8 322.5 802.7 322.6 803.5 322.6C804.3 322.6 805.2 322.7 806 322.7C806.8 322.7 807.7 322.8 808.5 322.8C809.3 322.9 810.2 322.9 811 322.9C811.8 323 812.7 323 813.5 323C814.3 323.1 815.2 323.1 816 323.1C816.8 323.2 817.7 323.2 818.5 323.3C819.3 323.3 820.2 323.3 821 323.4C821.8 323.4 822.7 323.4 823.5 323.5C824.3 323.5 825.2 323.5 826 323.6C826.8 323.6 827.7 323.6 828.5 323.7C829.3 323.7 830.2 323.7 831 323.8C831.8 323.8 832.7 323.8 833.5 323.9C834.3 323.9 835.2 323.9 836 324C836.8 324 837.7 324 838.5 324.1C839.3 324.1 840.2 324.1 841 324.2C841.8 324.2 842.7 324.2 843.5 324.3C844.3 324.3 845.2 324.3 846 324.4C846.8 324.4 847.7 324.4 848.5 324.4C849.3 324.5 850.2 324.5 851 324.5C851.8 324.6 852.7 324.6 853.5 324.6C854.3 324.7 855.2 324.7 856 324.7C856.8 324.7 857.7 324.8 858.5 324.8C859.3 324.8 860.2 324.9 861 324.9C861.8 324.9 862.7 324.9 863.5 325C864.3 325 865.2 325 866 325C866.8 325.1 867.7 325.1 868.5 325.1C869.3 325.1 870.2 325.2 871 325.2C871.8 325.2 872.8 325.2 873.5 325.3C874.2 325.3 874.8 325.3 875 325.3" stroke="#000" stroke-width="1.65"/>
<path d="M129 90.5C131 91.7 137 95 141 97.4C145 99.9 149 102.5 153 105.2C157 107.9 161 110.8 165 113.7C169 116.6 173 119.7 177 122.8C181 125.9 185 129.1 189 132.4C193 135.7 197 139.1 201 142.5C205 145.9 209 149.3 213 152.8C217 156.3 221 159.9 225 163.4C229 167 233 170.5 237 174.1C241 177.7 245 181.3 249 184.8C253 188.4 257 192 261 195.5C265 199 269 202.5 273 205.9C277 209.4 281.2 212.9 285 216.1C288.8 219.3 293.8 223.3 296 225.1C298.2 227 297.7 226.5 298.5 227.1C299.3 227.8 300.2 228.5 301 229.1C301.8 229.8 302.7 230.4 303.5 231.1C304.3 231.7 305.2 232.4 306 233C306.8 233.7 307.7 234.3 308.5 235C309.3 235.6 310.2 236.2 311 236.9C311.8 237.5 312.7 238.1 313.5 238.7C314.3 239.3 315.2 239.9 316 240.5C316.8 241.1 317.7 241.6 318.5 242.2C319.3 242.7 320.2 243.3 321 243.8C321.8 244.3 322.7 244.8 323.5 245.3C324.3 245.8 325.2 246.3 326 246.7C326.8 247.2 327.7 247.6 328.5 248.1C329.3 248.5 330.2 248.9 331 249.3C331.8 249.7 332.7 250.1 333.5 250.4C334.3 250.8 335.2 251.2 336 251.5C336.8 251.8 337.7 252.2 338.5 252.5C339.3 252.8 340.2 253.1 341 253.4C341.8 253.7 342.7 254 343.5 254.2C344.3 254.5 345.2 254.8 346 255C346.8 255.3 347.7 255.5 348.5 255.7C349.3 256 350.2 256.2 351 256.4C351.8 256.6 352.7 256.8 353.5 257C354.3 257.2 355.2 257.4 356 257.6C356.8 257.8 357.7 258 358.5 258.2C359.3 258.4 360.2 258.6 361 258.8C361.8 259 362.7 259.2 363.5 259.4C364.3 259.6 365.2 259.8 366 260.1C366.8 260.3 367.7 260.5 368.5 260.7C369.3 260.9 370.2 261.2 371 261.4C371.8 261.7 372.7 261.9 373.5 262.2C374.3 262.4 375.2 262.7 376 263C376.8 263.3 377.7 263.6 378.5 263.9C379.3 264.2 380.2 264.5 381 264.8C381.8 265.2 382.7 265.5 383.5 265.9C384.3 266.3 385.2 266.7 386 267.1C386.8 267.5 387.7 267.9 388.5 268.4C389.3 268.8 390.2 269.3 391 269.7C391.8 270.2 392.7 270.6 393.5 271.1C394.3 271.5 395.2 272 396 272.5C396.8 272.9 397.7 273.4 398.5 273.9C399.3 274.5 400.2 275 401 275.6C401.8 276.3 402.7 277 403.5 277.7C404.3 278.4 405.2 279.1 406 279.9C406.8 280.7 407.7 281.5 408.5 282.3C409.3 283.1 410.2 283.9 411 284.6C411.8 285.4 412.7 286.1 413.5 286.8C414.3 287.6 415.2 288.2 416 288.9C416.8 289.6 417.7 290.2 418.5 290.8C419.3 291.4 420.2 292 421 292.5C421.8 293.1 422.7 293.6 423.5 294.1C424.3 294.6 425.2 295.1 426 295.5C426.8 296 427.7 296.4 428.5 296.8C429.3 297.2 430.2 297.6 431 298C431.8 298.3 432.7 298.7 433.5 299C434.3 299.3 435.2 299.6 436 299.8C436.8 300.1 437.7 300.3 438.5 300.4C439.3 300.6 440.2 300.7 441 300.8C441.8 300.8 442.7 300.8 443.5 300.7C444.3 300.6 445.2 300.5 446 300.3C446.8 300.1 447.7 299.9 448.5 299.6C449.3 299.4 450.2 299.1 451 298.8C451.8 298.5 452.7 298.2 453.5 298C454.3 297.7 455.2 297.4 456 297.1C456.8 296.9 457.7 296.7 458.5 296.5C459.3 296.3 460.2 296.1 461 296C461.8 295.9 462.7 295.9 463.5 295.9C464.3 296 465.2 296.1 466 296.3C466.8 296.4 467.7 296.7 468.5 297C469.3 297.3 470.2 297.7 471 298.2C471.8 298.7 472.7 299.2 473.5 299.8C474.3 300.4 475.2 301.1 476 301.8C476.8 302.6 477.7 303.3 478.5 304.1C479.3 304.9 480.2 305.8 481 306.6C481.8 307.5 482.7 308.4 483.5 309.2C484.3 310 485.2 310.9 486 311.7C486.8 312.5 487.7 313.3 488.5 314C489.3 314.7 490.2 315.4 491 316C491.8 316.6 492.7 317.2 493.5 317.7C494.3 318.1 495.2 318.5 496 318.8C496.8 319 497.7 319.2 498.5 319.3C499.3 319.4 500.2 319.4 501 319.3C501.8 319.2 502.7 319 503.5 318.7C504.3 318.4 505.2 318.1 506 317.7C506.8 317.4 507.7 317 508.5 316.5C509.3 316.1 510.2 315.6 511 315.2C511.8 314.7 512.7 314.3 513.5 313.9C514.3 313.5 515.2 313 516 312.7C516.8 312.3 517.7 312 518.5 311.8C519.3 311.6 520.2 311.4 521 311.4C521.8 311.5 522.7 311.6 523.5 311.9C524.3 312.2 525.2 312.6 526 313.1C526.8 313.6 527.7 314.2 528.5 314.9C529.3 315.6 530.2 316.4 531 317.2C531.8 318.1 532.7 319 533.5 320C534.3 320.9 535.2 322 536 322.9C536.8 323.8 537.7 324.7 538.5 325.4C539.3 326.1 540.2 326.7 541 327C541.8 327.4 542.7 327.6 543.5 327.6C544.3 327.7 545.2 327.5 546 327.2C546.8 326.9 547.7 326.5 548.5 326.1C549.3 325.6 550.2 325 551 324.5C551.8 324 552.7 323.4 553.5 322.9C554.3 322.4 555.2 322 556 321.6C556.8 321.3 557.7 321.1 558.5 321C559.3 321 560.2 321.1 561 321.4C561.8 321.6 562.7 322.1 563.5 322.6C564.3 323.2 565.2 323.9 566 324.5C566.8 325.2 567.7 325.9 568.5 326.6C569.3 327.3 570.2 328.1 571 328.7C571.8 329.3 572.7 329.9 573.5 330.4C574.3 330.9 575.2 331.4 576 331.6C576.8 331.9 577.7 332 578.5 332C579.3 331.9 580.2 331.7 581 331.4C581.8 331.1 582.7 330.7 583.5 330.3C584.3 329.9 585.2 329.5 586 329.1C586.8 328.8 587.7 328.4 588.5 328.2C589.3 328 590.2 327.9 591 327.9C591.8 328 592.7 328.2 593.5 328.4C594.3 328.7 595.2 329.1 596 329.6C596.8 330 597.7 330.5 598.5 331C599.3 331.4 600.2 332 601 332.4C601.8 332.8 602.7 333.3 603.5 333.6C604.3 333.9 605.2 334.1 606 334.2C606.8 334.3 607.7 334.2 608.5 334.1C609.3 333.9 610.2 333.6 611 333.4C611.8 333.1 612.7 332.7 613.5 332.5C614.3 332.3 615.2 332.1 616 332.1C616.8 332.1 617.7 332.2 618.5 332.4C619.3 332.6 620.2 333 621 333.3C621.8 333.7 622.7 334.1 623.5 334.5C624.3 334.8 625.2 335.2 626 335.4C626.8 335.7 627.7 335.9 628.5 336C629.3 336.2 630.2 336.2 631 336.2C631.8 336.2 632.7 336.1 633.5 336C634.3 335.9 635.2 335.7 636 335.6C636.8 335.6 637.7 335.5 638.5 335.6C639.3 335.6 640.2 335.8 641 335.9C641.8 336.1 642.7 336.4 643.5 336.5C644.3 336.7 645.2 336.9 646 337.1C646.8 337.2 647.7 337.3 648.5 337.4C649.3 337.5 650.2 337.5 651 337.5C651.8 337.6 652.7 337.6 653.5 337.6C654.3 337.7 655.2 337.7 656 337.7C656.8 337.8 657.7 337.8 658.5 337.9C659.3 337.9 660.2 338 661 338.1C661.8 338.2 662.7 338.3 663.5 338.3C664.3 338.4 665.2 338.5 666 338.6C666.8 338.7 667.7 338.8 668.5 338.9C669.3 339 670.2 339 671 339.1C671.8 339.2 672.7 339.3 673.5 339.4C674.3 339.5 675.2 339.5 676 339.6C676.8 339.7 677.7 339.8 678.5 339.9C679.3 339.9 680.2 340 681 340.1C681.8 340.2 682.7 340.2 683.5 340.3C684.3 340.4 685.2 340.5 686 340.5C686.8 340.6 687.7 340.7 688.5 340.8C689.3 340.8 690.2 340.9 691 341C691.8 341.1 692.7 341.1 693.5 341.2C694.3 341.3 695.2 341.3 696 341.4C696.8 341.5 697.7 341.5 698.5 341.6C699.3 341.7 700.2 341.7 701 341.8C701.8 341.9 702.7 341.9 703.5 342C704.3 342.1 705.2 342.1 706 342.2C706.8 342.3 707.7 342.3 708.5 342.4C709.3 342.5 710.2 342.5 711 342.6C711.8 342.6 712.7 342.7 713.5 342.8C714.3 342.8 715.2 342.9 716 342.9C716.8 343 717.7 343 718.5 343.1C719.3 343.2 720.2 343.2 721 343.3C721.8 343.3 722.7 343.4 723.5 343.4C724.3 343.5 725.2 343.6 726 343.6C726.8 343.7 727.7 343.7 728.5 343.8C729.3 343.8 730.2 343.9 731 343.9C731.8 344 732.7 344 733.5 344.1C734.3 344.1 735.2 344.2 736 344.2C736.8 344.3 737.7 344.3 738.5 344.4C739.3 344.4 740.2 344.5 741 344.5C741.8 344.6 742.7 344.6 743.5 344.7C744.3 344.7 745.2 344.8 746 344.8C746.8 344.9 747.7 344.9 748.5 344.9C749.3 345 750.2 345 751 345.1C751.8 345.1 752.7 345.2 753.5 345.2C754.3 345.3 755.2 345.3 756 345.3C756.8 345.4 757.7 345.4 758.5 345.5C759.3 345.5 760.2 345.6 761 345.6C761.8 345.6 762.7 345.7 763.5 345.7C764.3 345.8 765.2 345.8 766 345.8C766.8 345.9 767.7 345.9 768.5 346C769.3 346 770.2 346 771 346.1C771.8 346.1 772.7 346.2 773.5 346.2C774.3 346.2 775.2 346.3 776 346.3C776.8 346.4 777.7 346.4 778.5 346.4C779.3 346.5 780.2 346.5 781 346.5C781.8 346.6 782.7 346.6 783.5 346.6C784.3 346.7 785.2 346.7 786 346.8C786.8 346.8 787.7 346.8 788.5 346.9C789.3 346.9 790.2 346.9 791 347C791.8 347 792.7 347 793.5 347.1C794.3 347.1 795.2 347.1 796 347.2C796.8 347.2 797.7 347.2 798.5 347.3C799.3 347.3 800.2 347.3 801 347.4C801.8 347.4 802.7 347.5 803.5 347.5C804.3 347.5 805.2 347.6 806 347.6C806.8 347.6 807.7 347.7 808.5 347.7C809.3 347.7 810.2 347.7 811 347.8C811.8 347.8 812.7 347.8 813.5 347.9C814.3 347.9 815.2 347.9 816 348C816.8 348 817.7 348 818.5 348.1C819.3 348.1 820.2 348.1 821 348.2C821.8 348.2 822.7 348.2 823.5 348.3C824.3 348.3 825.2 348.3 826 348.4C826.8 348.4 827.7 348.4 828.5 348.5C829.3 348.5 830.2 348.5 831 348.6C831.8 348.6 832.7 348.6 833.5 348.7C834.3 348.7 835.2 348.7 836 348.8C836.8 348.8 837.7 348.8 838.5 348.8C839.3 348.9 840.2 348.9 841 348.9C841.8 349 842.7 349 843.5 349C844.3 349.1 845.2 349.1 846 349.1C846.8 349.2 847.7 349.2 848.5 349.2C849.3 349.3 850.2 349.3 851 349.3C851.8 349.4 852.7 349.4 853.5 349.4C854.3 349.5 855.2 349.5 856 349.5C856.8 349.6 857.7 349.6 858.5 349.6C859.3 349.7 860.2 349.7 861 349.7C861.8 349.8 862.7 349.8 863.5 349.8C864.3 349.9 865.2 349.9 866 349.9C866.8 350 867.7 350 868.5 350.1C869.3 350.1 870.2 350.1 871 350.2C871.8 350.2 872.8 350.2 873.5 350.3C874.2 350.3 874.8 350.3 875 350.3" stroke="#000" stroke-width="1.65"/>
<path d="M129 92.5C131 93.7 137 97.1 141 99.6C145 102.1 149 104.8 153 107.6C157 110.4 161 113.4 165 116.5C169 119.6 173 122.8 177 126.2C181 129.5 185 132.9 189 136.4C193 140 197 143.6 201 147.2C205 150.9 209 154.6 213 158.4C217 162.2 221 166 225 169.8C229 173.6 233 177.5 237 181.4C241 185.2 245 189.1 249 192.9C253 196.8 257 200.6 261 204.4C265 208.2 269 212 273 215.6C277 219.3 281.2 223.1 285 226.5C288.8 229.9 293.8 234.1 296 236.1C298.2 238 297.7 237.5 298.5 238.2C299.3 238.9 300.2 239.6 301 240.3C301.8 241 302.7 241.6 303.5 242.3C304.3 243 305.2 243.7 306 244.4C306.8 245 307.7 245.7 308.5 246.4C309.3 247 310.2 247.7 311 248.3C311.8 249 312.7 249.6 313.5 250.3C314.3 250.9 315.2 251.5 316 252.1C316.8 252.8 317.7 253.4 318.5 254C319.3 254.6 320.2 255.2 321 255.7C321.8 256.3 322.7 256.9 323.5 257.4C324.3 258 325.2 258.5 326 259C326.8 259.5 327.7 260 328.5 260.5C329.3 260.9 330.2 261.4 331 261.8C331.8 262.3 332.7 262.7 333.5 263.1C334.3 263.5 335.2 263.9 336 264.3C336.8 264.7 337.7 265.1 338.5 265.5C339.3 265.9 340.2 266.2 341 266.6C341.8 266.9 342.7 267.3 343.5 267.6C344.3 268 345.2 268.3 346 268.7C346.8 269 347.7 269.3 348.5 269.6C349.3 270 350.2 270.3 351 270.6C351.8 270.9 352.7 271.2 353.5 271.5C354.3 271.9 355.2 272.2 356 272.5C356.8 272.8 357.7 273.1 358.5 273.4C359.3 273.7 360.2 274 361 274.3C361.8 274.6 362.7 274.9 363.5 275.3C364.3 275.6 365.2 275.9 366 276.2C366.8 276.5 367.7 276.9 368.5 277.2C369.3 277.5 370.2 277.9 371 278.2C371.8 278.5 372.7 278.9 373.5 279.2C374.3 279.6 375.2 280 376 280.3C376.8 280.7 377.7 281 378.5 281.4C379.3 281.8 380.2 282.2 381 282.6C381.8 282.9 382.7 283.3 383.5 283.7C384.3 284.1 385.2 284.5 386 285C386.8 285.4 387.7 285.8 388.5 286.2C389.3 286.7 390.2 287.1 391 287.6C391.8 288.1 392.7 288.5 393.5 289C394.3 289.5 395.2 290.1 396 290.6C396.8 291.2 397.7 291.8 398.5 292.4C399.3 293 400.2 293.7 401 294.4C401.8 295.1 402.7 295.8 403.5 296.5C404.3 297.3 405.2 298.1 406 298.8C406.8 299.6 407.7 300.4 408.5 301.2C409.3 302 410.2 302.8 411 303.6C411.8 304.4 412.7 305.2 413.5 305.9C414.3 306.7 415.2 307.5 416 308.2C416.8 308.9 417.7 309.6 418.5 310.3C419.3 310.9 420.2 311.5 421 312.1C421.8 312.7 422.7 313.3 423.5 313.8C424.3 314.3 425.2 314.7 426 315.2C426.8 315.6 427.7 316.1 428.5 316.5C429.3 316.9 430.2 317.2 431 317.6C431.8 318 432.7 318.3 433.5 318.6C434.3 318.9 435.2 319.3 436 319.6C436.8 319.9 437.7 320.2 438.5 320.5C439.3 320.8 440.2 321.1 441 321.3C441.8 321.6 442.7 321.8 443.5 322C444.3 322.1 445.2 322.2 446 322.2C446.8 322.1 447.7 322 448.5 321.9C449.3 321.7 450.2 321.5 451 321.3C451.8 321.1 452.7 320.8 453.5 320.5C454.3 320.3 455.2 320 456 319.8C456.8 319.5 457.7 319.3 458.5 319.2C459.3 319 460.2 318.9 461 318.9C461.8 318.9 462.7 318.9 463.5 319.1C464.3 319.2 465.2 319.5 466 319.8C466.8 320.1 467.7 320.5 468.5 320.9C469.3 321.3 470.2 321.8 471 322.2C471.8 322.7 472.7 323.2 473.5 323.7C474.3 324.3 475.2 324.8 476 325.4C476.8 326 477.7 326.7 478.5 327.3C479.3 328 480.2 328.7 481 329.5C481.8 330.2 482.7 331 483.5 331.9C484.3 332.7 485.2 333.6 486 334.5C486.8 335.4 487.7 336.3 488.5 337.1C489.3 338 490.2 338.8 491 339.5C491.8 340.3 492.7 341 493.5 341.6C494.3 342.1 495.2 342.6 496 342.9C496.8 343.2 497.7 343.4 498.5 343.5C499.3 343.6 500.2 343.6 501 343.5C501.8 343.4 502.7 343.3 503.5 343.1C504.3 342.8 505.2 342.6 506 342.3C506.8 342 507.7 341.6 508.5 341.2C509.3 340.9 510.2 340.5 511 340.2C511.8 339.8 512.7 339.5 513.5 339.1C514.3 338.8 515.2 338.5 516 338.3C516.8 338.1 517.7 337.9 518.5 337.8C519.3 337.7 520.2 337.7 521 337.8C521.8 337.9 522.7 338 523.5 338.3C524.3 338.6 525.2 339 526 339.6C526.8 340.1 527.7 340.8 528.5 341.5C529.3 342.2 530.2 343 531 343.9C531.8 344.7 532.7 345.7 533.5 346.6C534.3 347.5 535.2 348.5 536 349.3C536.8 350.2 537.7 351 538.5 351.7C539.3 352.4 540.2 352.9 541 353.3C541.8 353.7 542.7 354 543.5 354.1C544.3 354.1 545.2 354.1 546 353.9C546.8 353.7 547.7 353.3 548.5 352.9C549.3 352.6 550.2 352.1 551 351.6C551.8 351.1 552.7 350.6 553.5 350.2C554.3 349.7 555.2 349.3 556 349C556.8 348.7 557.7 348.4 558.5 348.4C559.3 348.4 560.2 348.5 561 348.7C561.8 349 562.7 349.4 563.5 349.9C564.3 350.4 565.2 351 566 351.6C566.8 352.3 567.7 353 568.5 353.7C569.3 354.4 570.2 355.1 571 355.8C571.8 356.5 572.7 357.1 573.5 357.7C574.3 358.2 575.2 358.7 576 359C576.8 359.3 577.7 359.5 578.5 359.5C579.3 359.5 580.2 359.3 581 359C581.8 358.8 582.7 358.3 583.5 357.9C584.3 357.6 585.2 357.1 586 356.7C586.8 356.4 587.7 356 588.5 355.8C589.3 355.7 590.2 355.5 591 355.6C591.8 355.7 592.7 356 593.5 356.3C594.3 356.6 595.2 357.1 596 357.6C596.8 358.2 597.7 358.8 598.5 359.3C599.3 359.9 600.2 360.5 601 361C601.8 361.5 602.7 362 603.5 362.3C604.3 362.7 605.2 362.9 606 363C606.8 363.1 607.7 362.9 608.5 362.8C609.3 362.6 610.2 362.3 611 362C611.8 361.7 612.7 361.3 613.5 361.1C614.3 360.9 615.2 360.8 616 360.8C616.8 360.8 617.7 360.9 618.5 361.1C619.3 361.3 620.2 361.6 621 362C621.8 362.3 622.7 362.7 623.5 363.1C624.3 363.4 625.2 363.8 626 364.1C626.8 364.4 627.7 364.7 628.5 364.9C629.3 365 630.2 365.1 631 365.1C631.8 365.1 632.7 364.9 633.5 364.8C634.3 364.7 635.2 364.5 636 364.4C636.8 364.4 637.7 364.3 638.5 364.4C639.3 364.5 640.2 364.8 641 365C641.8 365.2 642.7 365.5 643.5 365.7C644.3 365.9 645.2 366.1 646 366.3C646.8 366.5 647.7 366.5 648.5 366.6C649.3 366.7 650.2 366.8 651 366.9C651.8 367 652.7 367 653.5 367.1C654.3 367.2 655.2 367.3 656 367.4C656.8 367.5 657.7 367.6 658.5 367.7C659.3 367.8 660.2 367.9 661 368C661.8 368.1 662.7 368.2 663.5 368.3C664.3 368.4 665.2 368.5 666 368.5C666.8 368.6 667.7 368.7 668.5 368.8C669.3 368.9 670.2 369 671 369.1C671.8 369.2 672.7 369.3 673.5 369.3C674.3 369.4 675.2 369.5 676 369.6C676.8 369.7 677.7 369.8 678.5 369.9C679.3 369.9 680.2 370 681 370.1C681.8 370.2 682.7 370.3 683.5 370.3C684.3 370.4 685.2 370.5 686 370.6C686.8 370.7 687.7 370.7 688.5 370.8C689.3 370.9 690.2 371 691 371.1C691.8 371.1 692.7 371.2 693.5 371.3C694.3 371.4 695.2 371.4 696 371.5C696.8 371.6 697.7 371.6 698.5 371.7C699.3 371.8 700.2 371.9 701 371.9C701.8 372 702.7 372.1 703.5 372.1C704.3 372.2 705.2 372.3 706 372.4C706.8 372.4 707.7 372.5 708.5 372.6C709.3 372.6 710.2 372.7 711 372.8C711.8 372.8 712.7 372.9 713.5 373C714.3 373 715.2 373.1 716 373.1C716.8 373.2 717.7 373.3 718.5 373.3C719.3 373.4 720.2 373.5 721 373.5C721.8 373.6 722.7 373.6 723.5 373.7C724.3 373.8 725.2 373.8 726 373.9C726.8 373.9 727.7 374 728.5 374C729.3 374.1 730.2 374.2 731 374.2C731.8 374.3 732.7 374.3 733.5 374.4C734.3 374.4 735.2 374.5 736 374.5C736.8 374.6 737.7 374.6 738.5 374.7C739.3 374.7 740.2 374.8 741 374.8C741.8 374.9 742.7 374.9 743.5 375C744.3 375 745.2 375.1 746 375.1C746.8 375.2 747.7 375.2 748.5 375.3C749.3 375.3 750.2 375.4 751 375.4C751.8 375.5 752.7 375.5 753.5 375.6C754.3 375.6 755.2 375.6 756 375.7C756.8 375.7 757.7 375.8 758.5 375.8C759.3 375.9 760.2 375.9 761 375.9C761.8 376 762.7 376 763.5 376.1C764.3 376.1 765.2 376.2 766 376.2C766.8 376.2 767.7 376.3 768.5 376.3C769.3 376.4 770.2 376.4 771 376.4C771.8 376.5 772.7 376.5 773.5 376.5C774.3 376.6 775.2 376.6 776 376.7C776.8 376.7 777.7 376.7 778.5 376.8C779.3 376.8 780.2 376.8 781 376.9C781.8 376.9 782.7 376.9 783.5 377C784.3 377 785.2 377 786 377.1C786.8 377.1 787.7 377.2 788.5 377.2C789.3 377.2 790.2 377.3 791 377.3C791.8 377.3 792.7 377.4 793.5 377.4C794.3 377.4 795.2 377.5 796 377.5C796.8 377.5 797.7 377.6 798.5 377.6C799.3 377.6 800.2 377.7 801 377.7C801.8 377.7 802.7 377.8 803.5 377.8C804.3 377.8 805.2 377.8 806 377.9C806.8 377.9 807.7 377.9 808.5 378C809.3 378 810.2 378 811 378.1C811.8 378.1 812.7 378.1 813.5 378.2C814.3 378.2 815.2 378.2 816 378.3C816.8 378.3 817.7 378.3 818.5 378.4C819.3 378.4 820.2 378.4 821 378.5C821.8 378.5 822.7 378.5 823.5 378.5C824.3 378.6 825.2 378.6 826 378.6C826.8 378.7 827.7 378.7 828.5 378.7C829.3 378.8 830.2 378.8 831 378.8C831.8 378.9 832.7 378.9 833.5 378.9C834.3 379 835.2 379 836 379C836.8 379.1 837.7 379.1 838.5 379.1C839.3 379.2 840.2 379.2 841 379.2C841.8 379.3 842.7 379.3 843.5 379.3C844.3 379.4 845.2 379.4 846 379.5C846.8 379.5 847.7 379.5 848.5 379.6C849.3 379.6 850.2 379.6 851 379.7C851.8 379.7 852.7 379.7 853.5 379.8C854.3 379.8 855.2 379.9 856 379.9C856.8 379.9 857.7 380 858.5 380C859.3 380 860.2 380.1 861 380.1C861.8 380.2 862.7 380.2 863.5 380.2C864.3 380.3 865.2 380.3 866 380.4C866.8 380.4 867.7 380.4 868.5 380.5C869.3 380.5 870.2 380.6 871 380.6C871.8 380.7 872.8 380.7 873.5 380.7C874.2 380.8 874.8 380.8 875 380.8" stroke="#000" stroke-width="1.65"/>
<path d="M129 93.8C131 95.1 137 98.8 141 101.5C145 104.2 149 107 153 110C157 112.9 161 116 165 119.1C169 122.2 173 125.5 177 128.8C181 132.1 185 135.5 189 139C193 142.5 197 146 201 149.6C205 153.2 209 156.9 213 160.6C217 164.3 221 168.1 225 171.9C229 175.7 233 179.5 237 183.3C241 187.1 245 191 249 194.8C253 198.7 257 202.6 261 206.4C265 210.2 269 214.1 273 217.9C277 221.7 281.2 225.7 285 229.2C288.8 232.8 293.8 237.4 296 239.5C298.2 241.5 297.7 241 298.5 241.7C299.3 242.5 300.2 243.2 301 244C301.8 244.7 302.7 245.5 303.5 246.2C304.3 247 305.2 247.7 306 248.5C306.8 249.2 307.7 250 308.5 250.7C309.3 251.4 310.2 252.1 311 252.9C311.8 253.6 312.7 254.3 313.5 254.9C314.3 255.6 315.2 256.3 316 256.9C316.8 257.6 317.7 258.2 318.5 258.8C319.3 259.4 320.2 259.9 321 260.5C321.8 261 322.7 261.6 323.5 262.1C324.3 262.6 325.2 263.1 326 263.6C326.8 264.1 327.7 264.6 328.5 265.1C329.3 265.6 330.2 266.1 331 266.6C331.8 267.2 332.7 267.7 333.5 268.3C334.3 268.8 335.2 269.4 336 269.9C336.8 270.5 337.7 271 338.5 271.6C339.3 272.1 340.2 272.6 341 273C341.8 273.5 342.7 273.9 343.5 274.3C344.3 274.7 345.2 275 346 275.4C346.8 275.7 347.7 276 348.5 276.4C349.3 276.7 350.2 277 351 277.3C351.8 277.6 352.7 277.9 353.5 278.2C354.3 278.4 355.2 278.7 356 279C356.8 279.3 357.7 279.6 358.5 279.9C359.3 280.2 360.2 280.5 361 280.8C361.8 281.1 362.7 281.5 363.5 281.8C364.3 282.1 365.2 282.4 366 282.8C366.8 283.1 367.7 283.4 368.5 283.8C369.3 284.1 370.2 284.5 371 284.8C371.8 285.2 372.7 285.6 373.5 286C374.3 286.4 375.2 286.8 376 287.2C376.8 287.6 377.7 288 378.5 288.4C379.3 288.9 380.2 289.3 381 289.7C381.8 290.1 382.7 290.5 383.5 290.9C384.3 291.3 385.2 291.7 386 292.1C386.8 292.5 387.7 292.9 388.5 293.3C389.3 293.7 390.2 294.2 391 294.6C391.8 295.1 392.7 295.6 393.5 296.2C394.3 296.7 395.2 297.3 396 297.9C396.8 298.5 397.7 299.2 398.5 299.8C399.3 300.5 400.2 301.2 401 301.9C401.8 302.6 402.7 303.4 403.5 304.2C404.3 305 405.2 305.8 406 306.6C406.8 307.5 407.7 308.4 408.5 309.2C409.3 310.1 410.2 311 411 311.9C411.8 312.7 412.7 313.6 413.5 314.4C414.3 315.2 415.2 316 416 316.8C416.8 317.5 417.7 318.2 418.5 318.9C419.3 319.6 420.2 320.3 421 320.9C421.8 321.6 422.7 322.2 423.5 322.8C424.3 323.4 425.2 323.9 426 324.5C426.8 325 427.7 325.6 428.5 326.1C429.3 326.6 430.2 327.1 431 327.6C431.8 328.1 432.7 328.6 433.5 329C434.3 329.4 435.2 329.8 436 330.2C436.8 330.6 437.7 330.9 438.5 331.2C439.3 331.5 440.2 331.7 441 331.9C441.8 332.1 442.7 332.2 443.5 332.3C444.3 332.3 445.2 332.3 446 332.2C446.8 332.1 447.7 332 448.5 331.8C449.3 331.7 450.2 331.5 451 331.2C451.8 331 452.7 330.8 453.5 330.6C454.3 330.4 455.2 330.2 456 330.1C456.8 329.9 457.7 329.8 458.5 329.8C459.3 329.7 460.2 329.7 461 329.8C461.8 329.8 462.7 330 463.5 330.1C464.3 330.3 465.2 330.5 466 330.7C466.8 331 467.7 331.3 468.5 331.6C469.3 332 470.2 332.4 471 332.8C471.8 333.3 472.7 333.7 473.5 334.3C474.3 334.8 475.2 335.4 476 336C476.8 336.7 477.7 337.3 478.5 338.1C479.3 338.8 480.2 339.5 481 340.4C481.8 341.2 482.7 342 483.5 342.9C484.3 343.8 485.2 344.8 486 345.7C486.8 346.6 487.7 347.6 488.5 348.5C489.3 349.4 490.2 350.3 491 351C491.8 351.8 492.7 352.6 493.5 353.2C494.3 353.8 495.2 354.3 496 354.6C496.8 355 497.7 355.2 498.5 355.3C499.3 355.5 500.2 355.5 501 355.4C501.8 355.4 502.7 355.2 503.5 355.1C504.3 354.9 505.2 354.6 506 354.3C506.8 354.1 507.7 353.7 508.5 353.4C509.3 353.1 510.2 352.7 511 352.4C511.8 352.1 512.7 351.7 513.5 351.4C514.3 351.2 515.2 350.9 516 350.7C516.8 350.5 517.7 350.3 518.5 350.3C519.3 350.2 520.2 350.2 521 350.3C521.8 350.5 522.7 350.7 523.5 351C524.3 351.4 525.2 351.9 526 352.5C526.8 353.1 527.7 353.8 528.5 354.7C529.3 355.5 530.2 356.5 531 357.5C531.8 358.5 532.7 359.7 533.5 360.6C534.3 361.6 535.2 362.6 536 363.4C536.8 364.2 537.7 365 538.5 365.6C539.3 366.2 540.2 366.8 541 367.1C541.8 367.5 542.7 367.7 543.5 367.8C544.3 367.9 545.2 367.8 546 367.6C546.8 367.4 547.7 367 548.5 366.6C549.3 366.3 550.2 365.7 551 365.3C551.8 364.8 552.7 364.3 553.5 363.8C554.3 363.4 555.2 362.9 556 362.7C556.8 362.4 557.7 362.1 558.5 362.1C559.3 362.1 560.2 362.3 561 362.6C561.8 362.8 562.7 363.3 563.5 363.9C564.3 364.4 565.2 365.1 566 365.8C566.8 366.5 567.7 367.4 568.5 368.1C569.3 368.9 570.2 369.7 571 370.4C571.8 371.1 572.7 371.8 573.5 372.3C574.3 372.9 575.2 373.4 576 373.7C576.8 374 577.7 374.1 578.5 374.1C579.3 374.1 580.2 373.8 581 373.6C581.8 373.3 582.7 372.8 583.5 372.4C584.3 372.1 585.2 371.6 586 371.3C586.8 370.9 587.7 370.6 588.5 370.4C589.3 370.3 590.2 370.2 591 370.3C591.8 370.5 592.7 370.8 593.5 371.2C594.3 371.6 595.2 372.2 596 372.7C596.8 373.3 597.7 373.9 598.5 374.5C599.3 375.1 600.2 375.7 601 376.2C601.8 376.7 602.7 377.2 603.5 377.5C604.3 377.8 605.2 378 606 378.1C606.8 378.1 607.7 378 608.5 377.8C609.3 377.6 610.2 377.2 611 376.9C611.8 376.6 612.7 376.3 613.5 376.1C614.3 375.9 615.2 375.7 616 375.7C616.8 375.7 617.7 375.9 618.5 376.2C619.3 376.4 620.2 376.8 621 377.1C621.8 377.5 622.7 377.9 623.5 378.3C624.3 378.6 625.2 379 626 379.3C626.8 379.7 627.7 380 628.5 380.1C629.3 380.3 630.2 380.4 631 380.4C631.8 380.4 632.7 380.2 633.5 380.1C634.3 380 635.2 379.8 636 379.8C636.8 379.7 637.7 379.7 638.5 379.8C639.3 379.8 640.2 380 641 380.2C641.8 380.5 642.7 380.8 643.5 381C644.3 381.3 645.2 381.5 646 381.7C646.8 381.9 647.7 382.1 648.5 382.3C649.3 382.4 650.2 382.5 651 382.6C651.8 382.7 652.7 382.8 653.5 382.8C654.3 382.9 655.2 382.9 656 383C656.8 383 657.7 383.1 658.5 383.2C659.3 383.2 660.2 383.3 661 383.4C661.8 383.4 662.7 383.5 663.5 383.6C664.3 383.7 665.2 383.8 666 383.9C666.8 384 667.7 384.1 668.5 384.2C669.3 384.3 670.2 384.4 671 384.5C671.8 384.6 672.7 384.8 673.5 384.9C674.3 385 675.2 385.1 676 385.2C676.8 385.3 677.7 385.5 678.5 385.6C679.3 385.7 680.2 385.8 681 385.9C681.8 386.1 682.7 386.2 683.5 386.3C684.3 386.4 685.2 386.5 686 386.6C686.8 386.7 687.7 386.9 688.5 387C689.3 387.1 690.2 387.2 691 387.3C691.8 387.4 692.7 387.5 693.5 387.6C694.3 387.7 695.2 387.8 696 387.9C696.8 387.9 697.7 388 698.5 388.1C699.3 388.2 700.2 388.3 701 388.4C701.8 388.5 702.7 388.5 703.5 388.6C704.3 388.7 705.2 388.8 706 388.9C706.8 388.9 707.7 389 708.5 389.1C709.3 389.2 710.2 389.2 711 389.3C711.8 389.4 712.7 389.4 713.5 389.5C714.3 389.6 715.2 389.6 716 389.7C716.8 389.8 717.7 389.8 718.5 389.9C719.3 389.9 720.2 390 721 390.1C721.8 390.1 722.7 390.2 723.5 390.2C724.3 390.3 725.2 390.3 726 390.4C726.8 390.4 727.7 390.5 728.5 390.5C729.3 390.6 730.2 390.6 731 390.7C731.8 390.7 732.7 390.8 733.5 390.8C734.3 390.9 735.2 390.9 736 391C736.8 391 737.7 391.1 738.5 391.1C739.3 391.2 740.2 391.2 741 391.3C741.8 391.3 742.7 391.3 743.5 391.4C744.3 391.4 745.2 391.5 746 391.5C746.8 391.6 747.7 391.6 748.5 391.7C749.3 391.7 750.2 391.7 751 391.8C751.8 391.8 752.7 391.9 753.5 391.9C754.3 392 755.2 392 756 392C756.8 392.1 757.7 392.1 758.5 392.2C759.3 392.2 760.2 392.3 761 392.3C761.8 392.3 762.7 392.4 763.5 392.4C764.3 392.5 765.2 392.5 766 392.5C766.8 392.6 767.7 392.6 768.5 392.7C769.3 392.7 770.2 392.8 771 392.8C771.8 392.8 772.7 392.9 773.5 392.9C774.3 393 775.2 393 776 393C776.8 393.1 777.7 393.1 778.5 393.2C779.3 393.2 780.2 393.2 781 393.3C781.8 393.3 782.7 393.4 783.5 393.4C784.3 393.5 785.2 393.5 786 393.5C786.8 393.6 787.7 393.6 788.5 393.7C789.3 393.7 790.2 393.7 791 393.8C791.8 393.8 792.7 393.9 793.5 393.9C794.3 393.9 795.2 394 796 394C796.8 394.1 797.7 394.1 798.5 394.1C799.3 394.2 800.2 394.2 801 394.3C801.8 394.3 802.7 394.3 803.5 394.4C804.3 394.4 805.2 394.5 806 394.5C806.8 394.5 807.7 394.6 808.5 394.6C809.3 394.7 810.2 394.7 811 394.8C811.8 394.8 812.7 394.8 813.5 394.9C814.3 394.9 815.2 395 816 395C816.8 395 817.7 395.1 818.5 395.1C819.3 395.2 820.2 395.2 821 395.2C821.8 395.3 822.7 395.3 823.5 395.4C824.3 395.4 825.2 395.5 826 395.5C826.8 395.5 827.7 395.6 828.5 395.6C829.3 395.7 830.2 395.7 831 395.7C831.8 395.8 832.7 395.8 833.5 395.9C834.3 395.9 835.2 396 836 396C836.8 396 837.7 396.1 838.5 396.1C839.3 396.2 840.2 396.2 841 396.3C841.8 396.3 842.7 396.3 843.5 396.4C844.3 396.4 845.2 396.5 846 396.5C846.8 396.6 847.7 396.6 848.5 396.6C849.3 396.7 850.2 396.7 851 396.8C851.8 396.8 852.7 396.9 853.5 396.9C854.3 397 855.2 397 856 397.1C856.8 397.1 857.7 397.1 858.5 397.2C859.3 397.2 860.2 397.3 861 397.3C861.8 397.4 862.7 397.4 863.5 397.5C864.3 397.5 865.2 397.6 866 397.6C866.8 397.6 867.7 397.7 868.5 397.7C869.3 397.8 870.2 397.8 871 397.9C871.8 397.9 872.8 398 873.5 398C874.2 398.1 874.8 398.1 875 398.1" stroke="#000" stroke-width="1.65"/>
<path d="M156.8 141.4L304.6 252L320 258.8L340 268.8L353.2 274.4L366.4 279.7L373.6 282.3L379.6 286.7L389.9 293.2L399.8 301.1L409.7 310.3L419.6 319.6L421.6 321.9L428.2 325.5L436.8 329.4L444.7 331.4L454.6 333.1L467.7 334.7L488.2 351.8L503 367.2L512.9 366.7L522.2 373.8L530.9 376L539.1 386.4L546.8 391.3L554.5 388.6L560 392.7L567.9 399.3L574.5 400.7L580.4 400.4L585.6 409.2L591.5 408.5L596.6 417.6L602 417.7L606.6 421.4L611.2 427.2L615.6 428.9L620.5 427.8L624.4 433.8L628.7 433.3L632.6 437.1L637 438.7L640.6 443L644.6 443.3L648.1 447.2L651.6 444.8L654.9 448.8L657.8 449.7L661.6 452.5L664.7 451.6L667.6 458.6L670.5 456.5L676.8 462.1L679.9 463.6L684.5 465.9L688.3 463.6L689.8 460.2L692.9 470.5L695.2 463.6L701.3 468.2L706.7 475.1L710.5 469.7L713.6 471.3L715.1 469.4L718.2 472.8L720.5 476.6L723.6 471.3L726.6 466.7L728.9 469.7L734.3 473.6L739.7 469L742 470.5L743.5 463.6L747.3 465.9L748.9 470.5L751.9 465.9L755 469.7L758.1 465.1L759.6 468.2L762.7 465.9L765 464.2L767.3 463.6L770.3 465.1L773.4 459.8L776.5 460.5L780 456.7L782.6 454.6L783.9 456.3L785.2 456.8L786.5 454.6L787.8 453.3L789 454.6L790.3 455L791.5 455.3L792.7 451.7L793.9 451L795.1 453L796.3 452.1L797.5 452.9L798.7 451.6L799.8 449.6L801 448.8L802.1 452L803.3 447.7L804.4 446.5L805.5 445.5L806.6 446.6L807.7 446.1L808.8 445L809.8 444.9L810.9 444.8L812 444.9L813 445L814.1 443.3L815.1 440.2L816.1 443.1L817.1 439.8L818.2 441L819.2 438.8L820.2 440.3L821.2 438.8L822.1 439.7L823.1 443.5L824.1 438.5L825 439.3L826 435.9L826.9 436.9L827.9 437.8L828.8 436.3L829.7 436.5L830.7 435.7L831.6 433.8L832.5 435.6L833.4 433.3L834.3 436.6L835.2 432.9L836.1 434.1L836.9 432.8L837.8 433.9L838.7 431.4L839.6 433.4L840.4 431.5L841.3 433.2L842.1 432L843 431.1L843.8 429.5L844.6 431.5L845.4 430.8L846.3 432.2L847.1 429L847.9 430.1L848.7 429.8L849.5 429.2L850.3 428.8L851.1 428.6L851.9 427.2L852.7 426.1L853.4 426.5L854.2 427.5L855 428.3L855.8 427.1L856.5 426.7L857.3 425.8L858 425.3L858.8 424L859.5 424.4L860.3 425.5L861 422L861.7 421.1L862.4 424.6L863.2 421.7L863.9 422.4L864.6 421.8L865.3 418.5L866 423.4L866.7 422L867.4 419.3L868.1 419.7L868.8 418.4L869.5 416.5L870.2 417.3L870.9 417.6L871.6 418.3L872.3 417.3L872.9 416L873.6 417.5L874.3 414L875 415" stroke="#0000ff" stroke-width="1.85"/>
</g>
<rect x="129.0" y="39.9" width="746.0" height="500.1" fill="none" stroke="#000" stroke-width="1.9"/>
<path d="M222.6 540v-5 M222.6 39.9v5 M277.4 540v-5 M277.4 39.9v5 M316.2 540v-5 M316.2 39.9v5 M346.4 540v-5 M346.4 39.9v5 M371 540v-5 M371 39.9v5 M391.8 540v-5 M391.8 39.9v5 M409.9 540v-5 M409.9 39.9v5 M425.8 540v-5 M425.8 39.9v5 M440 540v-10 M440 39.9v10 M533.6 540v-5 M533.6 39.9v5 M588.4 540v-5 M588.4 39.9v5 M627.2 540v-5 M627.2 39.9v5 M657.4 540v-5 M657.4 39.9v5 M682 540v-5 M682 39.9v5 M702.8 540v-5 M702.8 39.9v5 M720.9 540v-5 M720.9 39.9v5 M736.8 540v-5 M736.8 39.9v5 M751 540v-10 M751 39.9v10 M844.6 540v-5 M844.6 39.9v5 M129 89.9h7.5 M875 89.9h-7.5 M129 139.9h15 M875 139.9h-15 M129 189.9h7.5 M875 189.9h-7.5 M129 239.9h15 M875 239.9h-15 M129 289.9h7.5 M875 289.9h-7.5 M129 340h15 M875 340h-15 M129 390h7.5 M875 390h-7.5 M129 440h15 M875 440h-15 M129 490h7.5 M875 490h-7.5" fill="none" stroke="#000" stroke-width="1.9"/>
<path d="M158.9 411.7H231.1" stroke="#ff0000" stroke-width="1.85" fill="none" stroke-dasharray="2 4"/>
<text font-family="'Liberation Serif', serif" x="243.3" y="416.7" font-weight="bold" font-size="22.5">49</text>
<path d="M158.9 430.8H231.1" stroke="#8000ff" stroke-width="1.85" fill="none" stroke-dasharray="8.6 8"/>
<text font-family="'Liberation Serif', serif" x="243.3" y="435.8" font-weight="bold" font-size="22.5">24</text>
<path d="M158.9 449.8H231.1" stroke="#00a000" stroke-width="1.85" fill="none" stroke-dasharray="8.6 3.8 2.4 3.8"/>
<text font-family="'Liberation Serif', serif" x="243.3" y="454.8" font-weight="bold" font-size="22.5">9</text>
<path d="M158.9 469.0H231.1" stroke="#ff00aa" stroke-width="1.85" fill="none" stroke-dasharray="12.6 4.0 2.3 3.8 2.3 3.8 2.3 4.1"/>
<text font-family="'Liberation Serif', serif" x="243.3" y="474" font-weight="bold" font-size="22.5">4</text>
<path d="M158.9 487.9H231.1" stroke="#00ff00" stroke-width="1.85" fill="none" stroke-dasharray="16.9 8"/>
<text font-family="'Liberation Serif', serif" x="243.3" y="492.9" font-weight="bold" font-size="22.5">1</text>
<path d="M158.9 506.7H231.1" stroke="#0000ff" stroke-width="1.85" fill="none"/>
<text font-family="'Liberation Serif', serif" x="243.3" y="511.7" font-weight="bold" font-size="22.5">0</text>
<g font-family="'Liberation Serif', serif" fill="#000"><text transform="translate(122.4 54.7) scale(1 1.09)" text-anchor="end" font-size="24">0</text><text transform="translate(122.4 148.5) scale(1 1.09)" text-anchor="end" font-size="24">-10</text><text transform="translate(122.4 248.5) scale(1 1.09)" text-anchor="end" font-size="24">-20</text><text transform="translate(122.4 348.6) scale(1 1.09)" text-anchor="end" font-size="24">-30</text><text transform="translate(122.4 448.6) scale(1 1.09)" text-anchor="end" font-size="24">-40</text><text transform="translate(122.4 540.8) scale(1 1.09)" text-anchor="end" font-size="24">-50</text><text transform="translate(131.5 571) scale(1 1.09)" text-anchor="middle" font-size="24">0.01</text><text transform="translate(442.2 571) scale(1 1.09)" text-anchor="middle" font-size="24">0.1</text><text transform="translate(754.7 571) scale(1 1.09)" text-anchor="middle" font-size="24">1.0</text><text y="597.2" font-size="25.5" xml:space="preserve"><tspan x="441.3" font-weight="bold" font-style="italic">k</tspan><tspan x="467.2">[</tspan><tspan x="474.6" font-style="italic">h</tspan><tspan x="493.4">M</tspan><tspan x="516.6">p</tspan><tspan x="529.4">c</tspan><tspan x="541" font-size="15.5" dy="-9.5">-1</tspan><tspan x="554.6" dy="9.5">]</tspan></text><text transform="translate(64.7 360.4) rotate(-90)" font-size="25" xml:space="preserve"><tspan font-weight="bold">Δ</tspan><tspan font-weight="bold" font-style="italic">P</tspan><tspan font-weight="bold" font-style="italic" font-size="16" dy="5">m</tspan><tspan dy="-5" font-weight="bold" font-style="italic"> / P</tspan><tspan font-weight="bold" font-style="italic" font-size="16" dy="5">m</tspan><tspan dy="-5">  [%]</tspan></text></g>
</svg>
</body></html>
